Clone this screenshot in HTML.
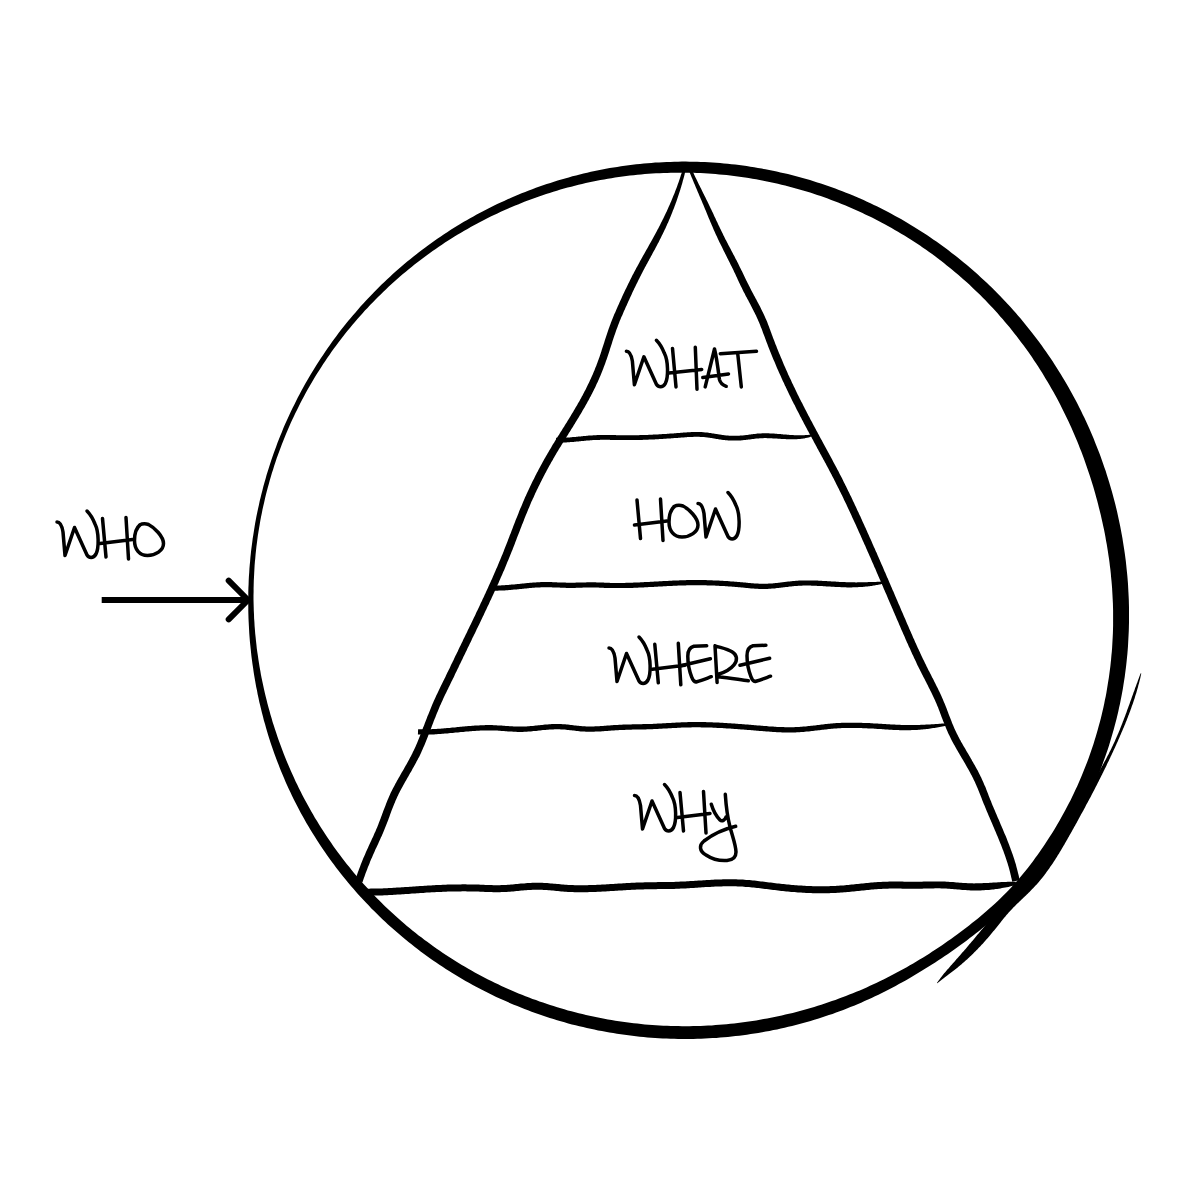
<!DOCTYPE html>
<html><head><meta charset="utf-8"><title>Who What How Where Why</title>
<style>html,body{margin:0;padding:0;background:#fff;width:1200px;height:1200px;overflow:hidden;font-family:"Liberation Sans",sans-serif}svg{display:block}</style>
</head><body>
<svg width="1200" height="1200" viewBox="0 0 1200 1200">
<path d="M248.2,599.5 L248.3,595.7 L248.3,591.9 L248.4,588.0 L248.6,584.2 L248.7,580.4 L248.9,576.6 L249.2,572.8 L249.4,569.0 L249.7,565.2 L250.1,561.4 L250.4,557.6 L250.8,553.8 L251.2,550.0 L251.7,546.2 L252.2,542.4 L252.7,538.6 L253.3,534.9 L253.9,531.1 L254.5,527.3 L255.1,523.6 L255.8,519.8 L256.5,516.1 L257.3,512.3 L258.1,508.6 L258.9,504.9 L259.7,501.1 L260.6,497.4 L261.5,493.7 L262.5,490.0 L263.4,486.3 L264.4,482.7 L265.5,479.0 L266.5,475.3 L267.6,471.7 L268.8,468.0 L269.9,464.4 L271.1,460.8 L272.3,457.2 L273.6,453.5 L274.9,450.0 L276.2,446.4 L277.5,442.8 L278.9,439.2 L280.3,435.7 L281.8,432.2 L283.2,428.6 L284.7,425.1 L286.3,421.6 L287.8,418.2 L289.4,414.7 L291.0,411.2 L292.7,407.8 L294.4,404.4 L296.1,401.0 L297.8,397.6 L299.6,394.2 L301.4,390.8 L303.2,387.5 L305.1,384.1 L307.0,380.8 L308.9,377.5 L310.8,374.2 L312.8,370.9 L314.8,367.7 L316.8,364.5 L318.9,361.2 L321.0,358.0 L323.1,354.9 L325.2,351.7 L327.4,348.6 L329.6,345.4 L331.8,342.3 L334.0,339.2 L336.3,336.2 L338.6,333.1 L340.9,330.1 L343.3,327.1 L345.7,324.1 L348.1,321.1 L350.5,318.2 L353.0,315.3 L355.5,312.4 L358.0,309.5 L360.5,306.6 L363.1,303.8 L365.6,301.0 L368.2,298.2 L370.9,295.4 L373.5,292.7 L376.2,290.0 L378.9,287.3 L381.6,284.6 L384.4,281.9 L387.2,279.3 L390.0,276.7 L392.8,274.1 L395.6,271.6 L398.5,269.1 L401.4,266.6 L404.3,264.1 L407.2,261.6 L410.2,259.2 L413.2,256.8 L416.1,254.4 L419.2,252.1 L422.2,249.8 L425.3,247.5 L428.3,245.2 L431.4,243.0 L434.5,240.7 L437.7,238.6 L440.8,236.4 L444.0,234.3 L447.2,232.2 L450.4,230.1 L453.6,228.1 L456.9,226.0 L460.2,224.0 L463.4,222.1 L466.7,220.2 L470.1,218.3 L473.4,216.4 L476.7,214.5 L480.1,212.7 L483.5,210.9 L486.9,209.2 L490.3,207.5 L493.7,205.8 L497.2,204.1 L500.6,202.5 L504.1,200.9 L507.6,199.3 L511.1,197.8 L514.6,196.2 L518.1,194.8 L521.6,193.3 L525.2,191.9 L528.8,190.5 L532.3,189.2 L535.9,187.8 L539.5,186.5 L543.1,185.3 L546.7,184.0 L550.4,182.9 L554.0,181.7 L557.7,180.6 L561.3,179.5 L565.0,178.4 L568.7,177.4 L572.4,176.3 L576.1,175.4 L579.8,174.4 L583.5,173.5 L587.2,172.7 L590.9,171.8 L594.7,171.0 L598.4,170.2 L602.2,169.5 L605.9,168.8 L609.7,168.1 L613.5,167.5 L617.2,166.9 L621.0,166.3 L624.8,165.7 L628.6,165.2 L632.4,164.8 L636.2,164.3 L640.0,163.9 L643.8,163.5 L647.6,163.2 L651.4,162.9 L655.2,162.6 L659.0,162.4 L662.8,162.2 L666.6,162.0 L670.5,161.9 L674.3,161.7 L678.1,161.7 L681.9,161.6 L685.8,161.6 L689.6,161.7 L693.4,161.7 L697.2,161.8 L701.0,161.9 L704.8,162.1 L708.7,162.3 L712.5,162.5 L716.3,162.8 L720.1,163.1 L723.9,163.4 L727.7,163.8 L731.5,164.2 L735.3,164.6 L739.1,165.1 L742.9,165.6 L746.7,166.1 L750.4,166.7 L754.2,167.3 L758.0,167.9 L761.7,168.6 L765.5,169.2 L769.2,170.0 L773.0,170.7 L776.7,171.5 L780.4,172.4 L784.2,173.2 L787.9,174.1 L791.6,175.0 L795.3,176.0 L799.0,177.0 L802.6,178.0 L806.3,179.0 L810.0,180.1 L813.6,181.2 L817.3,182.4 L820.9,183.6 L824.5,184.8 L828.1,186.0 L831.7,187.3 L835.3,188.6 L838.9,189.9 L842.4,191.3 L846.0,192.7 L849.5,194.1 L853.1,195.6 L856.6,197.1 L860.1,198.6 L863.6,200.1 L867.0,201.7 L870.5,203.3 L873.9,205.0 L877.4,206.6 L880.8,208.3 L884.2,210.0 L887.6,211.8 L890.9,213.6 L894.3,215.4 L897.6,217.2 L901.0,219.1 L904.3,221.0 L907.6,223.0 L910.8,224.9 L914.1,226.9 L917.3,228.9 L920.5,230.9 L923.7,233.0 L926.9,235.1 L930.1,237.2 L933.2,239.4 L936.4,241.6 L939.5,243.8 L942.6,246.0 L945.7,248.3 L948.7,250.5 L951.7,252.9 L954.8,255.2 L957.7,257.6 L960.7,259.9 L963.7,262.4 L966.6,264.8 L969.5,267.3 L972.4,269.7 L975.3,272.3 L978.1,274.8 L980.9,277.4 L983.7,279.9 L986.5,282.6 L989.3,285.2 L992.0,287.8 L994.7,290.5 L997.4,293.2 L1000.1,296.0 L1002.7,298.7 L1005.3,301.5 L1007.9,304.3 L1010.5,307.1 L1013.1,309.9 L1015.6,312.8 L1018.1,315.7 L1020.6,318.6 L1023.0,321.5 L1025.4,324.4 L1027.8,327.4 L1030.2,330.4 L1032.6,333.4 L1034.9,336.4 L1037.2,339.5 L1039.5,342.5 L1041.7,345.6 L1043.9,348.7 L1046.1,351.8 L1048.3,355.0 L1050.4,358.1 L1052.6,361.3 L1054.6,364.5 L1056.7,367.7 L1058.7,370.9 L1060.8,374.2 L1062.7,377.4 L1064.7,380.7 L1066.6,384.0 L1068.5,387.3 L1070.4,390.7 L1072.2,394.0 L1074.1,397.4 L1075.9,400.7 L1077.6,404.1 L1079.3,407.5 L1081.1,410.9 L1082.7,414.4 L1084.4,417.8 L1086.0,421.3 L1087.6,424.8 L1089.2,428.3 L1090.7,431.8 L1092.2,435.3 L1093.7,438.8 L1095.1,442.4 L1096.5,445.9 L1097.9,449.5 L1099.3,453.1 L1100.6,456.6 L1101.9,460.2 L1103.2,463.9 L1104.4,467.5 L1105.7,471.1 L1106.8,474.8 L1108.0,478.4 L1109.1,482.1 L1110.2,485.8 L1111.3,489.4 L1112.3,493.1 L1113.3,496.8 L1114.3,500.6 L1115.3,504.3 L1116.2,508.0 L1117.1,511.8 L1117.9,515.5 L1118.7,519.3 L1119.5,523.0 L1120.3,526.8 L1121.0,530.6 L1121.7,534.3 L1122.4,538.1 L1123.0,541.9 L1123.6,545.7 L1124.2,549.5 L1124.8,553.4 L1125.3,557.2 L1125.8,561.0 L1126.2,564.8 L1126.6,568.7 L1127.0,572.5 L1127.4,576.4 L1127.7,580.2 L1128.0,584.1 L1128.2,587.9 L1128.4,591.8 L1128.6,595.6 L1128.8,599.5 L1128.9,603.4 L1129.0,607.2 L1129.0,611.1 L1129.0,615.0 L1129.0,618.9 L1129.0,622.7 L1128.9,626.6 L1128.8,630.5 L1128.6,634.4 L1128.4,638.2 L1128.2,642.1 L1128.0,646.0 L1127.7,649.9 L1127.4,653.7 L1127.0,657.6 L1126.6,661.5 L1126.2,665.3 L1125.7,669.2 L1125.2,673.0 L1124.7,676.9 L1124.1,680.7 L1123.5,684.6 L1122.9,688.4 L1122.2,692.3 L1121.5,696.1 L1120.7,699.9 L1120.0,703.7 L1119.1,707.6 L1118.3,711.4 L1117.4,715.2 L1116.5,719.0 L1115.5,722.7 L1114.5,726.5 L1113.5,730.3 L1112.4,734.0 L1111.3,737.8 L1110.2,741.5 L1109.1,745.3 L1107.9,749.0 L1106.6,752.7 L1105.3,756.4 L1104.0,760.1 L1102.7,763.7 L1101.3,767.4 L1099.9,771.0 L1098.4,774.7 L1096.9,778.3 L1095.4,781.9 L1093.9,785.5 L1092.3,789.1 L1090.6,792.6 L1089.0,796.2 L1087.2,799.7 L1085.5,803.2 L1083.7,806.7 L1081.9,810.1 L1080.0,813.6 L1078.1,817.0 L1076.2,820.4 L1074.3,823.8 L1072.3,827.2 L1070.2,830.5 L1068.1,833.8 L1066.0,837.1 L1063.9,840.4 L1061.7,843.6 L1059.5,846.9 L1057.2,850.1 L1054.9,853.2 L1052.6,856.4 L1050.2,859.5 L1047.8,862.6 L1045.4,865.6 L1042.9,868.7 L1040.4,871.7 L1037.9,874.6 L1035.4,877.6 L1032.8,880.5 L1030.2,883.4 L1027.5,886.3 L1024.9,889.1 L1022.2,891.9 L1019.4,894.7 L1016.7,897.5 L1013.9,900.2 L1011.1,902.9 L1008.3,905.6 L1005.5,908.3 L1002.6,910.9 L999.7,913.5 L996.8,916.1 L993.9,918.6 L991.0,921.1 L988.0,923.6 L985.0,926.1 L982.0,928.5 L979.0,930.9 L976.0,933.3 L972.9,935.7 L969.8,938.1 L966.8,940.4 L963.7,942.7 L960.5,945.0 L957.4,947.2 L954.3,949.5 L951.1,951.7 L948.0,953.9 L944.8,956.0 L941.6,958.2 L938.4,960.3 L935.2,962.4 L931.9,964.5 L928.7,966.6 L925.4,968.6 L922.2,970.6 L918.9,972.6 L915.6,974.6 L912.3,976.5 L909.0,978.5 L905.6,980.4 L902.3,982.3 L898.9,984.1 L895.6,985.9 L892.2,987.7 L888.8,989.5 L885.4,991.3 L881.9,993.0 L878.5,994.7 L875.0,996.3 L871.6,998.0 L868.1,999.6 L864.6,1001.1 L861.1,1002.7 L857.5,1004.2 L854.0,1005.7 L850.4,1007.1 L846.9,1008.5 L843.3,1009.9 L839.7,1011.3 L836.1,1012.6 L832.5,1013.9 L828.9,1015.1 L825.2,1016.3 L821.6,1017.5 L817.9,1018.7 L814.3,1019.8 L810.6,1020.9 L806.9,1022.0 L803.2,1023.0 L799.5,1024.0 L795.8,1025.0 L792.1,1025.9 L788.3,1026.8 L784.6,1027.7 L780.9,1028.6 L777.1,1029.4 L773.4,1030.1 L769.6,1030.9 L765.8,1031.6 L762.1,1032.3 L758.3,1032.9 L754.5,1033.5 L750.7,1034.1 L746.9,1034.7 L743.1,1035.2 L739.3,1035.7 L735.5,1036.1 L731.7,1036.5 L727.9,1036.9 L724.0,1037.3 L720.2,1037.6 L716.4,1037.9 L712.6,1038.1 L708.7,1038.3 L704.9,1038.5 L701.1,1038.7 L697.3,1038.8 L693.4,1038.9 L689.6,1038.9 L685.8,1039.0 L681.9,1038.9 L678.1,1038.9 L674.2,1038.8 L670.4,1038.7 L666.6,1038.6 L662.7,1038.4 L658.9,1038.2 L655.1,1037.9 L651.3,1037.7 L647.4,1037.4 L643.6,1037.0 L639.8,1036.7 L636.0,1036.2 L632.2,1035.8 L628.4,1035.3 L624.6,1034.8 L620.8,1034.3 L617.0,1033.7 L613.2,1033.1 L609.4,1032.5 L605.6,1031.8 L601.9,1031.1 L598.1,1030.4 L594.3,1029.6 L590.6,1028.8 L586.8,1028.0 L583.1,1027.1 L579.4,1026.2 L575.6,1025.3 L571.9,1024.4 L568.2,1023.4 L564.5,1022.3 L560.8,1021.3 L557.1,1020.2 L553.5,1019.1 L549.8,1017.9 L546.1,1016.7 L542.5,1015.5 L538.9,1014.3 L535.2,1013.0 L531.6,1011.7 L528.0,1010.3 L524.5,1009.0 L520.9,1007.6 L517.3,1006.1 L513.8,1004.7 L510.2,1003.2 L506.7,1001.6 L503.2,1000.1 L499.7,998.5 L496.2,996.9 L492.8,995.2 L489.3,993.5 L485.9,991.8 L482.4,990.1 L479.0,988.3 L475.6,986.5 L472.3,984.7 L468.9,982.8 L465.5,980.9 L462.2,979.0 L458.9,977.0 L455.6,975.0 L452.3,973.0 L449.1,971.0 L445.8,968.9 L442.6,966.8 L439.4,964.7 L436.2,962.6 L433.1,960.4 L429.9,958.2 L426.8,955.9 L423.7,953.7 L420.6,951.4 L417.5,949.1 L414.5,946.7 L411.5,944.3 L408.5,941.9 L405.5,939.5 L402.5,937.1 L399.6,934.6 L396.7,932.1 L393.8,929.5 L390.9,927.0 L388.0,924.4 L385.2,921.8 L382.4,919.2 L379.6,916.5 L376.9,913.8 L374.1,911.1 L371.4,908.4 L368.8,905.6 L366.1,902.8 L363.5,900.0 L360.9,897.2 L358.3,894.4 L355.7,891.5 L353.2,888.6 L350.7,885.7 L348.2,882.7 L345.8,879.8 L343.3,876.8 L340.9,873.8 L338.6,870.7 L336.2,867.7 L333.9,864.6 L331.6,861.5 L329.4,858.4 L327.1,855.3 L324.9,852.1 L322.8,849.0 L320.6,845.8 L318.5,842.6 L316.4,839.3 L314.4,836.1 L312.3,832.8 L310.3,829.5 L308.4,826.2 L306.4,822.9 L304.5,819.6 L302.7,816.2 L300.8,812.9 L299.0,809.5 L297.2,806.1 L295.5,802.7 L293.7,799.2 L292.0,795.8 L290.4,792.3 L288.8,788.9 L287.2,785.4 L285.6,781.9 L284.1,778.3 L282.6,774.8 L281.1,771.3 L279.7,767.7 L278.3,764.1 L276.9,760.6 L275.6,757.0 L274.3,753.4 L273.0,749.7 L271.7,746.1 L270.5,742.5 L269.3,738.8 L268.2,735.2 L267.1,731.5 L266.0,727.8 L265.0,724.1 L263.9,720.5 L263.0,716.8 L262.0,713.0 L261.1,709.3 L260.2,705.6 L259.3,701.9 L258.5,698.1 L257.7,694.4 L257.0,690.6 L256.2,686.9 L255.5,683.1 L254.9,679.4 L254.2,675.6 L253.6,671.8 L253.1,668.0 L252.5,664.2 L252.0,660.5 L251.5,656.7 L251.1,652.9 L250.7,649.1 L250.3,645.3 L249.9,641.5 L249.6,637.7 L249.3,633.8 L249.1,630.0 L248.9,626.2 L248.7,622.4 L248.5,618.6 L248.4,614.8 L248.3,611.0 L248.3,607.1 L248.2,603.3ZM253.6,603.3 L253.7,607.0 L253.8,610.8 L254.0,614.6 L254.1,618.3 L254.4,622.1 L254.6,625.9 L254.9,629.6 L255.2,633.4 L255.6,637.1 L256.0,640.9 L256.4,644.6 L256.8,648.4 L257.3,652.1 L257.9,655.8 L258.4,659.6 L259.0,663.3 L259.6,667.0 L260.3,670.7 L260.9,674.4 L261.6,678.1 L262.4,681.8 L263.2,685.5 L264.0,689.2 L264.8,692.8 L265.7,696.5 L266.6,700.1 L267.5,703.8 L268.5,707.4 L269.5,711.0 L270.5,714.7 L271.6,718.3 L272.6,721.9 L273.8,725.5 L274.9,729.0 L276.1,732.6 L277.3,736.2 L278.5,739.7 L279.8,743.3 L281.1,746.8 L282.4,750.3 L283.7,753.8 L285.1,757.3 L286.5,760.8 L288.0,764.3 L289.5,767.7 L291.0,771.2 L292.5,774.6 L294.1,778.0 L295.6,781.4 L297.3,784.8 L298.9,788.2 L300.6,791.5 L302.3,794.9 L304.0,798.2 L305.8,801.5 L307.6,804.8 L309.4,808.1 L311.3,811.4 L313.1,814.6 L315.0,817.9 L317.0,821.1 L318.9,824.3 L320.9,827.5 L322.9,830.6 L325.0,833.8 L327.1,836.9 L329.2,840.0 L331.3,843.1 L333.4,846.2 L335.6,849.2 L337.8,852.3 L340.1,855.3 L342.3,858.3 L344.6,861.3 L346.9,864.2 L349.3,867.1 L351.6,870.1 L354.0,873.0 L356.4,875.8 L358.9,878.7 L361.4,881.5 L363.8,884.3 L366.4,887.1 L368.9,889.8 L371.5,892.6 L374.1,895.3 L376.7,898.0 L379.3,900.6 L382.0,903.3 L384.7,905.9 L387.4,908.5 L390.1,911.0 L392.9,913.6 L395.6,916.1 L398.4,918.6 L401.2,921.1 L404.1,923.5 L406.9,925.9 L409.8,928.3 L412.7,930.7 L415.7,933.0 L418.6,935.4 L421.6,937.6 L424.6,939.9 L427.6,942.1 L430.6,944.3 L433.6,946.5 L436.7,948.7 L439.8,950.8 L442.9,952.9 L446.0,955.0 L449.1,957.0 L452.3,959.1 L455.4,961.0 L458.6,963.0 L461.8,964.9 L465.0,966.8 L468.3,968.7 L471.5,970.6 L474.8,972.4 L478.1,974.2 L481.4,975.9 L484.7,977.7 L488.0,979.4 L491.3,981.1 L494.7,982.7 L498.1,984.3 L501.4,985.9 L504.8,987.5 L508.2,989.0 L511.7,990.5 L515.1,992.0 L518.5,993.4 L522.0,994.8 L525.5,996.2 L529.0,997.5 L532.5,998.9 L536.0,1000.1 L539.5,1001.4 L543.0,1002.6 L546.5,1003.8 L550.1,1005.0 L553.6,1006.1 L557.2,1007.2 L560.8,1008.3 L564.3,1009.3 L567.9,1010.4 L571.5,1011.3 L575.1,1012.3 L578.8,1013.2 L582.4,1014.1 L586.0,1014.9 L589.6,1015.8 L593.3,1016.6 L596.9,1017.3 L600.6,1018.1 L604.3,1018.8 L607.9,1019.4 L611.6,1020.1 L615.3,1020.7 L619.0,1021.2 L622.6,1021.8 L626.3,1022.3 L630.0,1022.8 L633.7,1023.2 L637.4,1023.6 L641.1,1024.0 L644.8,1024.4 L648.5,1024.7 L652.3,1025.0 L656.0,1025.3 L659.7,1025.5 L663.4,1025.7 L667.1,1025.8 L670.9,1026.0 L674.6,1026.1 L678.3,1026.1 L682.0,1026.2 L685.8,1026.2 L689.5,1026.2 L693.2,1026.1 L696.9,1026.0 L700.6,1025.9 L704.4,1025.8 L708.1,1025.6 L711.8,1025.4 L715.5,1025.1 L719.2,1024.8 L722.9,1024.5 L726.6,1024.2 L730.3,1023.8 L734.1,1023.4 L737.8,1023.0 L741.4,1022.5 L745.1,1022.1 L748.8,1021.5 L752.5,1021.0 L756.2,1020.4 L759.9,1019.8 L763.5,1019.1 L767.2,1018.5 L770.8,1017.7 L774.5,1017.0 L778.1,1016.2 L781.8,1015.4 L785.4,1014.6 L789.0,1013.8 L792.7,1012.9 L796.3,1011.9 L799.9,1011.0 L803.5,1010.0 L807.1,1009.0 L810.6,1008.0 L814.2,1006.9 L817.8,1005.8 L821.3,1004.7 L824.9,1003.5 L828.4,1002.3 L831.9,1001.1 L835.4,999.9 L839.0,998.6 L842.4,997.3 L845.9,996.0 L849.4,994.6 L852.9,993.2 L856.3,991.8 L859.8,990.4 L863.2,988.9 L866.6,987.4 L870.0,985.8 L873.4,984.3 L876.8,982.7 L880.2,981.1 L883.5,979.4 L886.9,977.8 L890.2,976.1 L893.5,974.3 L896.8,972.6 L900.1,970.8 L903.4,969.0 L906.7,967.2 L909.9,965.3 L913.2,963.5 L916.4,961.5 L919.6,959.6 L922.8,957.7 L926.0,955.7 L929.2,953.7 L932.3,951.6 L935.5,949.6 L938.6,947.5 L941.7,945.4 L944.8,943.3 L947.9,941.1 L951.0,939.0 L954.0,936.8 L957.1,934.5 L960.1,932.3 L963.1,930.0 L966.1,927.7 L969.1,925.4 L972.0,923.1 L975.0,920.7 L977.9,918.4 L980.8,915.9 L983.7,913.5 L986.6,911.0 L989.4,908.5 L992.3,906.0 L995.1,903.5 L997.8,900.9 L1000.6,898.2 L1003.3,895.6 L1005.9,892.9 L1008.6,890.2 L1011.2,887.4 L1013.8,884.6 L1016.3,881.8 L1018.8,878.9 L1021.2,876.1 L1023.7,873.1 L1026.0,870.2 L1028.4,867.2 L1030.7,864.2 L1033.0,861.2 L1035.2,858.1 L1037.5,855.0 L1039.6,851.9 L1041.8,848.8 L1043.9,845.7 L1046.0,842.5 L1048.1,839.3 L1050.2,836.1 L1052.2,832.9 L1054.2,829.7 L1056.1,826.5 L1058.0,823.2 L1059.9,819.9 L1061.8,816.6 L1063.6,813.3 L1065.4,810.0 L1067.2,806.6 L1068.9,803.2 L1070.7,799.9 L1072.3,796.5 L1074.0,793.1 L1075.6,789.6 L1077.2,786.2 L1078.7,782.7 L1080.2,779.3 L1081.7,775.8 L1083.1,772.3 L1084.5,768.8 L1085.9,765.3 L1087.3,761.7 L1088.6,758.2 L1089.9,754.6 L1091.1,751.1 L1092.3,747.5 L1093.5,743.9 L1094.6,740.3 L1095.7,736.7 L1096.8,733.1 L1097.8,729.4 L1098.8,725.8 L1099.8,722.2 L1100.8,718.5 L1101.7,714.8 L1102.5,711.2 L1103.4,707.5 L1104.2,703.8 L1104.9,700.1 L1105.7,696.4 L1106.4,692.7 L1107.0,689.0 L1107.6,685.3 L1108.2,681.6 L1108.8,677.9 L1109.3,674.2 L1109.8,670.5 L1110.3,666.7 L1110.7,663.0 L1111.1,659.3 L1111.4,655.5 L1111.8,651.8 L1112.1,648.1 L1112.3,644.3 L1112.5,640.6 L1112.7,636.9 L1112.9,633.1 L1113.0,629.4 L1113.1,625.6 L1113.1,621.9 L1113.1,618.2 L1113.1,614.4 L1113.1,610.7 L1113.0,607.0 L1112.9,603.2 L1112.7,599.5 L1112.5,595.8 L1112.3,592.1 L1112.1,588.3 L1111.8,584.6 L1111.5,580.9 L1111.1,577.2 L1110.8,573.5 L1110.4,569.8 L1109.9,566.1 L1109.5,562.4 L1109.0,558.7 L1108.4,555.1 L1107.9,551.4 L1107.3,547.7 L1106.7,544.1 L1106.0,540.4 L1105.4,536.8 L1104.7,533.1 L1104.0,529.5 L1103.2,525.9 L1102.4,522.3 L1101.6,518.7 L1100.8,515.1 L1099.9,511.5 L1099.0,507.9 L1098.1,504.3 L1097.2,500.7 L1096.2,497.2 L1095.2,493.6 L1094.2,490.1 L1093.2,486.5 L1092.1,483.0 L1091.0,479.5 L1089.9,475.9 L1088.7,472.4 L1087.5,468.9 L1086.3,465.5 L1085.1,462.0 L1083.9,458.5 L1082.6,455.1 L1081.3,451.6 L1079.9,448.2 L1078.6,444.8 L1077.2,441.3 L1075.8,437.9 L1074.3,434.6 L1072.9,431.2 L1071.4,427.8 L1069.9,424.5 L1068.3,421.1 L1066.7,417.8 L1065.1,414.5 L1063.5,411.2 L1061.9,407.9 L1060.2,404.6 L1058.5,401.3 L1056.8,398.1 L1055.0,394.8 L1053.2,391.6 L1051.4,388.4 L1049.6,385.2 L1047.7,382.0 L1045.8,378.9 L1043.9,375.7 L1042.0,372.6 L1040.0,369.5 L1038.0,366.3 L1036.0,363.3 L1033.9,360.2 L1031.9,357.1 L1029.8,354.1 L1027.7,351.1 L1025.5,348.1 L1023.3,345.1 L1021.1,342.2 L1018.9,339.2 L1016.7,336.3 L1014.4,333.4 L1012.1,330.5 L1009.8,327.6 L1007.4,324.8 L1005.0,321.9 L1002.6,319.1 L1000.2,316.4 L997.8,313.6 L995.3,310.8 L992.8,308.1 L990.3,305.4 L987.7,302.7 L985.2,300.1 L982.6,297.5 L980.0,294.8 L977.3,292.3 L974.6,289.7 L972.0,287.2 L969.3,284.6 L966.5,282.1 L963.8,279.7 L961.0,277.2 L958.2,274.8 L955.4,272.4 L952.5,270.0 L949.7,267.7 L946.8,265.4 L943.9,263.1 L941.0,260.8 L938.0,258.6 L935.1,256.3 L932.1,254.1 L929.1,252.0 L926.1,249.8 L923.0,247.7 L920.0,245.6 L916.9,243.6 L913.8,241.5 L910.7,239.5 L907.5,237.6 L904.4,235.6 L901.2,233.7 L898.0,231.8 L894.8,229.9 L891.6,228.1 L888.4,226.3 L885.2,224.5 L881.9,222.7 L878.6,221.0 L875.3,219.3 L872.0,217.6 L868.7,216.0 L865.3,214.4 L862.0,212.8 L858.6,211.2 L855.2,209.7 L851.8,208.2 L848.4,206.8 L845.0,205.3 L841.6,203.9 L838.1,202.5 L834.7,201.2 L831.2,199.9 L827.7,198.6 L824.2,197.3 L820.7,196.1 L817.2,194.9 L813.7,193.7 L810.1,192.6 L806.6,191.5 L803.0,190.4 L799.5,189.4 L795.9,188.4 L792.3,187.4 L788.7,186.5 L785.1,185.5 L781.5,184.7 L777.9,183.8 L774.3,183.0 L770.7,182.2 L767.0,181.4 L763.4,180.7 L759.7,180.0 L756.1,179.3 L752.4,178.7 L748.7,178.1 L745.1,177.5 L741.4,177.0 L737.7,176.5 L734.0,176.0 L730.3,175.5 L726.6,175.1 L722.9,174.8 L719.2,174.4 L715.5,174.1 L711.8,173.8 L708.1,173.5 L704.4,173.3 L700.6,173.1 L696.9,173.0 L693.2,172.8 L689.5,172.8 L685.8,172.7 L682.0,172.7 L678.3,172.7 L674.6,172.7 L670.8,172.8 L667.1,172.9 L663.4,173.0 L659.7,173.2 L656.0,173.3 L652.2,173.6 L648.5,173.8 L644.8,174.1 L641.1,174.4 L637.4,174.8 L633.7,175.2 L629.9,175.6 L626.2,176.1 L622.5,176.5 L618.8,177.1 L615.1,177.6 L611.5,178.2 L607.8,178.8 L604.1,179.4 L600.4,180.1 L596.8,180.8 L593.1,181.6 L589.4,182.3 L585.8,183.1 L582.1,184.0 L578.5,184.8 L574.9,185.7 L571.3,186.7 L567.6,187.6 L564.0,188.6 L560.4,189.6 L556.9,190.7 L553.3,191.8 L549.7,192.9 L546.1,194.0 L542.6,195.2 L539.0,196.4 L535.5,197.7 L532.0,199.0 L528.5,200.3 L525.0,201.6 L521.5,203.0 L518.0,204.4 L514.6,205.8 L511.1,207.2 L507.7,208.7 L504.2,210.2 L500.8,211.8 L497.4,213.4 L494.0,215.0 L490.7,216.6 L487.3,218.3 L484.0,220.0 L480.6,221.7 L477.3,223.5 L474.0,225.3 L470.7,227.1 L467.5,228.9 L464.2,230.8 L461.0,232.7 L457.8,234.6 L454.5,236.6 L451.4,238.6 L448.2,240.6 L445.0,242.6 L441.9,244.7 L438.8,246.8 L435.7,248.9 L432.6,251.1 L429.6,253.3 L426.5,255.5 L423.5,257.7 L420.5,260.0 L417.5,262.3 L414.5,264.6 L411.6,266.9 L408.7,269.3 L405.8,271.7 L402.9,274.1 L400.0,276.6 L397.2,279.0 L394.4,281.5 L391.6,284.1 L388.8,286.6 L386.1,289.2 L383.4,291.8 L380.7,294.4 L378.0,297.1 L375.3,299.7 L372.7,302.4 L370.1,305.1 L367.5,307.9 L364.9,310.6 L362.4,313.4 L359.9,316.2 L357.4,319.1 L354.9,321.9 L352.5,324.8 L350.1,327.7 L347.7,330.6 L345.3,333.5 L343.0,336.5 L340.7,339.5 L338.4,342.5 L336.2,345.5 L333.9,348.6 L331.7,351.6 L329.6,354.7 L327.4,357.8 L325.3,360.9 L323.2,364.1 L321.2,367.2 L319.1,370.4 L317.1,373.6 L315.1,376.8 L313.2,380.0 L311.3,383.3 L309.4,386.6 L307.5,389.8 L305.7,393.1 L303.9,396.5 L302.1,399.8 L300.4,403.1 L298.7,406.5 L297.0,409.9 L295.3,413.3 L293.7,416.7 L292.1,420.1 L290.5,423.5 L289.0,427.0 L287.5,430.5 L286.0,433.9 L284.6,437.4 L283.2,440.9 L281.8,444.4 L280.5,448.0 L279.2,451.5 L277.9,455.1 L276.6,458.6 L275.4,462.2 L274.2,465.8 L273.1,469.4 L271.9,473.0 L270.9,476.6 L269.8,480.2 L268.8,483.9 L267.8,487.5 L266.8,491.2 L265.9,494.8 L265.0,498.5 L264.2,502.2 L263.3,505.9 L262.5,509.5 L261.8,513.2 L261.0,516.9 L260.3,520.7 L259.7,524.4 L259.1,528.1 L258.5,531.8 L257.9,535.6 L257.4,539.3 L256.9,543.0 L256.4,546.8 L256.0,550.5 L255.6,554.3 L255.3,558.0 L254.9,561.8 L254.6,565.6 L254.4,569.3 L254.2,573.1 L254.0,576.9 L253.8,580.6 L253.7,584.4 L253.6,588.2 L253.6,592.0 L253.5,595.7 L253.5,599.5Z" fill="#000" fill-rule="evenodd"/>
<path d="M1140.7,673.3 L1140.2,674.5 L1139.8,675.6 L1139.3,676.8 L1138.9,678.0 L1138.5,679.1 L1138.0,680.3 L1137.6,681.5 L1137.2,682.7 L1136.7,683.8 L1136.3,685.0 L1135.9,686.2 L1135.4,687.3 L1135.0,688.5 L1134.6,689.7 L1134.2,690.9 L1133.7,692.1 L1133.3,693.2 L1132.9,694.4 L1132.5,695.6 L1132.0,696.8 L1131.6,698.0 L1131.2,699.2 L1130.8,700.3 L1130.3,701.5 L1129.9,702.7 L1129.5,703.9 L1129.1,705.1 L1128.6,706.3 L1128.2,707.5 L1127.8,708.6 L1127.3,709.8 L1126.9,711.0 L1126.5,712.2 L1126.0,713.4 L1125.6,714.6 L1125.2,715.7 L1124.7,716.9 L1124.3,718.1 L1123.8,719.3 L1123.4,720.5 L1122.9,721.6 L1122.5,722.8 L1122.0,724.0 L1121.5,725.2 L1121.1,726.3 L1120.6,727.5 L1120.1,728.7 L1119.7,729.9 L1119.2,731.0 L1118.7,732.2 L1118.2,733.4 L1117.7,734.5 L1117.2,735.7 L1116.7,736.8 L1116.2,738.0 L1115.7,739.1 L1115.2,740.3 L1114.7,741.4 L1114.2,742.6 L1113.6,743.7 L1113.1,744.8 L1112.6,746.0 L1112.0,747.1 L1111.5,748.2 L1110.9,749.4 L1110.4,750.5 L1109.8,751.6 L1109.2,752.7 L1108.7,753.9 L1108.1,755.0 L1107.5,756.1 L1106.9,757.2 L1106.4,758.3 L1105.8,759.4 L1105.2,760.5 L1104.6,761.6 L1104.0,762.7 L1103.4,763.8 L1102.8,764.9 L1102.2,766.0 L1101.6,767.1 L1101.0,768.2 L1100.3,769.3 L1099.7,770.4 L1099.1,771.4 L1098.5,772.5 L1097.8,773.6 L1097.2,774.7 L1096.6,775.8 L1095.9,776.8 L1095.3,777.9 L1094.7,779.0 L1094.0,780.1 L1093.4,781.1 L1092.7,782.2 L1092.1,783.3 L1091.4,784.3 L1090.8,785.4 L1090.1,786.5 L1089.4,787.5 L1088.8,788.6 L1088.1,789.6 L1087.4,790.7 L1086.8,791.8 L1086.1,792.8 L1085.4,793.9 L1084.8,794.9 L1084.1,796.0 L1083.4,797.1 L1082.8,798.1 L1082.1,799.2 L1081.4,800.2 L1080.7,801.3 L1080.0,802.3 L1079.4,803.4 L1078.7,804.5 L1078.0,805.5 L1077.3,806.6 L1076.6,807.6 L1076.0,808.7 L1075.3,809.7 L1074.6,810.8 L1073.9,811.8 L1073.2,812.9 L1072.5,813.9 L1071.9,815.0 L1071.2,816.1 L1070.5,817.1 L1069.8,818.2 L1069.1,819.2 L1068.4,820.3 L1067.8,821.4 L1067.1,822.4 L1066.4,823.5 L1065.7,824.5 L1065.0,825.6 L1064.3,826.7 L1063.7,827.7 L1063.0,828.8 L1062.3,829.9 L1061.6,830.9 L1061.0,832.0 L1060.3,833.1 L1059.6,834.1 L1058.9,835.2 L1058.3,836.3 L1057.6,837.3 L1056.9,838.4 L1056.2,839.5 L1055.6,840.5 L1054.9,841.6 L1054.2,842.7 L1053.5,843.7 L1052.9,844.8 L1052.2,845.8 L1051.5,846.9 L1050.8,847.9 L1050.2,849.0 L1049.5,850.0 L1048.8,851.1 L1048.1,852.1 L1047.4,853.1 L1046.7,854.2 L1046.0,855.2 L1045.4,856.2 L1044.7,857.3 L1044.0,858.3 L1043.2,859.3 L1042.5,860.3 L1041.8,861.3 L1041.1,862.3 L1040.4,863.3 L1039.7,864.3 L1038.9,865.3 L1038.2,866.3 L1037.5,867.3 L1036.7,868.2 L1036.0,869.2 L1035.2,870.2 L1034.5,871.1 L1033.7,872.1 L1033.0,873.0 L1032.2,873.9 L1031.4,874.9 L1030.6,875.8 L1029.8,876.7 L1029.0,877.6 L1028.2,878.5 L1027.4,879.4 L1026.6,880.3 L1025.8,881.2 L1024.9,882.1 L1024.1,883.0 L1023.2,883.8 L1022.4,884.7 L1021.5,885.6 L1020.6,886.5 L1019.7,887.3 L1018.9,888.2 L1018.0,889.1 L1017.1,890.0 L1016.2,890.8 L1015.3,891.7 L1014.4,892.6 L1013.4,893.5 L1012.5,894.4 L1011.6,895.2 L1010.7,896.1 L1009.8,897.0 L1008.9,897.9 L1008.0,898.8 L1007.1,899.7 L1006.2,900.7 L1005.3,901.6 L1004.4,902.5 L1003.5,903.5 L1002.6,904.4 L1001.7,905.4 L1000.9,906.4 L1000.0,907.3 L999.2,908.3 L998.3,909.3 L997.5,910.3 L996.7,911.2 L995.8,912.2 L995.0,913.2 L994.2,914.2 L993.4,915.2 L992.6,916.2 L991.8,917.2 L991.0,918.1 L990.2,919.1 L989.4,920.1 L988.7,921.1 L987.9,922.1 L987.1,923.0 L986.3,924.0 L985.5,925.0 L984.7,926.0 L984.0,926.9 L983.2,927.9 L982.4,928.9 L981.6,929.8 L980.8,930.8 L980.0,931.8 L979.2,932.7 L978.4,933.7 L977.6,934.6 L976.8,935.6 L976.0,936.5 L975.2,937.5 L974.4,938.5 L973.6,939.4 L972.8,940.4 L972.0,941.3 L971.2,942.3 L970.4,943.2 L969.6,944.1 L968.8,945.1 L968.0,946.0 L967.2,947.0 L966.4,947.9 L965.6,948.9 L964.8,949.8 L964.0,950.7 L963.1,951.7 L962.3,952.6 L961.5,953.5 L960.7,954.5 L959.9,955.4 L959.1,956.3 L958.3,957.3 L957.4,958.2 L956.6,959.1 L955.8,960.1 L955.0,961.0 L954.2,961.9 L953.4,962.8 L952.5,963.8 L951.7,964.7 L950.9,965.6 L950.1,966.5 L949.3,967.5 L948.5,968.4 L947.6,969.3 L946.8,970.3 L946.0,971.2 L945.2,972.2 L944.4,973.1 L943.6,974.1 L942.8,975.0 L942.1,976.0 L941.3,977.0 L940.5,978.0 L939.8,978.9 L939.1,979.9 L938.3,980.9 L937.6,981.9 L936.9,983.0 L937.3,983.3 L938.2,982.5 L939.2,981.7 L940.1,980.9 L941.1,980.2 L942.0,979.4 L943.0,978.7 L944.0,977.9 L944.9,977.2 L945.9,976.4 L946.9,975.7 L947.9,975.0 L948.8,974.2 L949.8,973.5 L950.8,972.7 L951.8,972.0 L952.8,971.2 L953.8,970.5 L954.8,969.7 L955.7,968.9 L956.7,968.2 L957.7,967.4 L958.7,966.6 L959.7,965.8 L960.6,965.0 L961.6,964.2 L962.5,963.3 L963.5,962.5 L964.4,961.7 L965.4,960.8 L966.3,960.0 L967.3,959.2 L968.2,958.3 L969.1,957.4 L970.0,956.6 L971.0,955.7 L971.9,954.8 L972.8,953.9 L973.7,953.0 L974.6,952.1 L975.5,951.2 L976.4,950.3 L977.3,949.4 L978.1,948.5 L979.0,947.6 L979.9,946.7 L980.8,945.7 L981.6,944.8 L982.5,943.9 L983.4,942.9 L984.2,942.0 L985.1,941.0 L985.9,940.1 L986.8,939.1 L987.6,938.2 L988.4,937.2 L989.3,936.2 L990.1,935.3 L990.9,934.3 L991.7,933.3 L992.5,932.3 L993.3,931.3 L994.1,930.4 L994.9,929.4 L995.7,928.4 L996.5,927.4 L997.3,926.4 L998.1,925.4 L998.9,924.4 L999.7,923.4 L1000.5,922.5 L1001.2,921.5 L1002.0,920.5 L1002.8,919.6 L1003.6,918.6 L1004.4,917.6 L1005.2,916.7 L1005.9,915.8 L1006.7,914.8 L1007.5,913.9 L1008.3,913.0 L1009.1,912.1 L1010.0,911.2 L1010.8,910.3 L1011.6,909.4 L1012.5,908.5 L1013.3,907.6 L1014.2,906.7 L1015.0,905.9 L1015.9,905.0 L1016.8,904.1 L1017.7,903.3 L1018.6,902.4 L1019.5,901.5 L1020.4,900.7 L1021.3,899.8 L1022.2,898.9 L1023.1,898.1 L1024.0,897.2 L1025.0,896.3 L1025.9,895.4 L1026.8,894.6 L1027.7,893.7 L1028.6,892.8 L1029.5,891.9 L1030.4,891.0 L1031.3,890.0 L1032.2,889.1 L1033.1,888.2 L1034.0,887.2 L1034.9,886.3 L1035.8,885.3 L1036.7,884.4 L1037.5,883.4 L1038.4,882.4 L1039.2,881.4 L1040.0,880.5 L1040.8,879.5 L1041.7,878.5 L1042.5,877.5 L1043.3,876.4 L1044.1,875.4 L1044.8,874.4 L1045.6,873.4 L1046.4,872.3 L1047.1,871.3 L1047.9,870.3 L1048.6,869.2 L1049.4,868.2 L1050.1,867.1 L1050.8,866.1 L1051.6,865.0 L1052.3,863.9 L1053.0,862.9 L1053.7,861.8 L1054.4,860.7 L1055.1,859.7 L1055.8,858.6 L1056.5,857.5 L1057.1,856.4 L1057.8,855.3 L1058.5,854.2 L1059.2,853.2 L1059.8,852.1 L1060.5,851.0 L1061.1,849.9 L1061.8,848.8 L1062.4,847.7 L1063.1,846.6 L1063.7,845.5 L1064.4,844.4 L1065.0,843.3 L1065.6,842.2 L1066.3,841.1 L1066.9,840.0 L1067.5,838.9 L1068.1,837.8 L1068.8,836.7 L1069.4,835.6 L1070.0,834.5 L1070.6,833.4 L1071.3,832.3 L1071.9,831.2 L1072.5,830.1 L1073.1,829.0 L1073.7,827.9 L1074.3,826.8 L1075.0,825.7 L1075.6,824.6 L1076.2,823.5 L1076.8,822.4 L1077.4,821.3 L1078.0,820.2 L1078.6,819.0 L1079.2,817.9 L1079.8,816.8 L1080.4,815.7 L1081.0,814.6 L1081.6,813.5 L1082.2,812.4 L1082.9,811.3 L1083.5,810.2 L1084.1,809.1 L1084.7,808.0 L1085.2,806.9 L1085.8,805.8 L1086.4,804.6 L1087.0,803.5 L1087.6,802.4 L1088.2,801.3 L1088.8,800.2 L1089.4,799.1 L1090.0,798.0 L1090.6,796.9 L1091.2,795.7 L1091.8,794.6 L1092.3,793.5 L1092.9,792.4 L1093.5,791.3 L1094.1,790.2 L1094.7,789.0 L1095.2,787.9 L1095.8,786.8 L1096.4,785.7 L1097.0,784.6 L1097.5,783.4 L1098.1,782.3 L1098.7,781.2 L1099.2,780.1 L1099.8,779.0 L1100.4,777.8 L1100.9,776.7 L1101.5,775.6 L1102.1,774.5 L1102.6,773.3 L1103.2,772.2 L1103.7,771.1 L1104.3,769.9 L1104.8,768.8 L1105.4,767.7 L1106.0,766.5 L1106.5,765.4 L1107.0,764.3 L1107.6,763.1 L1108.1,762.0 L1108.7,760.9 L1109.2,759.7 L1109.8,758.6 L1110.3,757.5 L1110.8,756.3 L1111.4,755.2 L1111.9,754.0 L1112.4,752.9 L1113.0,751.7 L1113.5,750.6 L1114.0,749.5 L1114.6,748.3 L1115.1,747.2 L1115.6,746.0 L1116.1,744.9 L1116.6,743.7 L1117.2,742.5 L1117.7,741.4 L1118.2,740.2 L1118.7,739.1 L1119.2,737.9 L1119.7,736.8 L1120.2,735.6 L1120.7,734.4 L1121.2,733.3 L1121.7,732.1 L1122.2,730.9 L1122.7,729.8 L1123.2,728.6 L1123.7,727.4 L1124.2,726.2 L1124.7,725.1 L1125.2,723.9 L1125.6,722.7 L1126.1,721.5 L1126.6,720.4 L1127.0,719.2 L1127.5,718.0 L1128.0,716.8 L1128.4,715.6 L1128.9,714.4 L1129.3,713.3 L1129.8,712.1 L1130.2,710.9 L1130.6,709.7 L1131.1,708.5 L1131.5,707.3 L1131.9,706.1 L1132.3,704.9 L1132.8,703.7 L1133.2,702.5 L1133.6,701.3 L1134.0,700.1 L1134.4,698.9 L1134.8,697.7 L1135.1,696.5 L1135.5,695.3 L1135.9,694.1 L1136.3,692.9 L1136.6,691.7 L1137.0,690.5 L1137.3,689.3 L1137.7,688.1 L1138.0,686.9 L1138.3,685.6 L1138.6,684.4 L1139.0,683.2 L1139.3,682.0 L1139.6,680.8 L1139.9,679.6 L1140.2,678.4 L1140.5,677.1 L1140.7,675.9 L1141.0,674.7 L1141.3,673.5Z" fill="#000"/>
<path d="M683.2,167.7 L682.8,169.2 L682.3,170.7 L681.9,172.2 L681.4,173.7 L680.9,175.1 L680.5,176.6 L680.0,178.1 L679.5,179.6 L679.0,181.1 L678.5,182.5 L677.9,184.0 L677.4,185.5 L676.9,186.9 L676.3,188.4 L675.8,189.8 L675.2,191.3 L674.7,192.7 L674.1,194.2 L673.5,195.6 L672.9,197.1 L672.3,198.5 L671.7,200.0 L671.1,201.4 L670.5,202.8 L669.9,204.3 L669.2,205.7 L668.6,207.1 L668.0,208.5 L667.3,210.0 L666.7,211.4 L666.0,212.8 L665.3,214.2 L664.7,215.6 L664.0,217.0 L663.3,218.4 L662.6,219.8 L661.9,221.2 L661.2,222.6 L660.5,224.0 L659.8,225.4 L659.1,226.8 L658.4,228.2 L657.6,229.5 L656.9,230.9 L656.2,232.3 L655.4,233.7 L654.7,235.0 L653.9,236.4 L653.2,237.8 L652.4,239.2 L651.7,240.5 L650.9,241.9 L650.1,243.3 L649.4,244.6 L648.6,246.0 L647.8,247.4 L647.1,248.7 L646.3,250.1 L645.5,251.5 L644.8,252.8 L644.0,254.2 L643.2,255.6 L642.4,257.0 L641.7,258.3 L640.9,259.7 L640.1,261.1 L639.4,262.5 L638.6,263.9 L637.9,265.3 L637.1,266.7 L636.3,268.0 L635.6,269.4 L634.8,270.9 L634.1,272.3 L633.4,273.7 L632.6,275.1 L631.9,276.5 L631.2,277.9 L630.5,279.3 L629.8,280.8 L629.1,282.2 L628.4,283.6 L627.7,285.0 L627.0,286.5 L626.3,287.9 L625.6,289.3 L624.9,290.8 L624.2,292.2 L623.6,293.6 L622.9,295.1 L622.2,296.5 L621.6,297.9 L620.9,299.4 L620.3,300.8 L619.6,302.3 L619.0,303.7 L618.3,305.2 L617.7,306.6 L617.1,308.0 L616.4,309.5 L615.8,310.9 L615.2,312.4 L614.5,313.8 L613.9,315.3 L613.3,316.8 L612.7,318.2 L612.1,319.7 L611.5,321.2 L610.9,322.7 L610.4,324.2 L609.8,325.7 L609.3,327.2 L608.7,328.7 L608.2,330.2 L607.7,331.7 L607.2,333.2 L606.7,334.7 L606.2,336.2 L605.7,337.7 L605.2,339.2 L604.7,340.7 L604.3,342.3 L603.8,343.8 L603.3,345.3 L602.8,346.8 L602.3,348.3 L601.8,349.7 L601.4,351.2 L600.9,352.7 L600.4,354.2 L599.9,355.7 L599.4,357.2 L598.9,358.6 L598.4,360.1 L597.8,361.5 L597.3,363.0 L596.7,364.4 L596.2,365.9 L595.6,367.3 L595.0,368.8 L594.5,370.2 L593.9,371.6 L593.3,373.1 L592.7,374.5 L592.0,375.9 L591.4,377.3 L590.8,378.7 L590.1,380.1 L589.5,381.5 L588.8,382.9 L588.1,384.3 L587.4,385.7 L586.8,387.1 L586.1,388.5 L585.4,389.9 L584.6,391.3 L583.9,392.7 L583.2,394.0 L582.5,395.4 L581.7,396.8 L581.0,398.2 L580.2,399.5 L579.5,400.9 L578.7,402.2 L577.9,403.6 L577.2,404.9 L576.4,406.3 L575.6,407.6 L574.8,409.0 L574.0,410.3 L573.2,411.7 L572.4,413.0 L571.6,414.3 L570.8,415.7 L570.0,417.0 L569.1,418.4 L568.3,419.7 L567.5,421.0 L566.7,422.4 L565.8,423.7 L565.0,425.0 L564.2,426.4 L563.3,427.7 L562.5,429.0 L561.7,430.4 L560.8,431.7 L560.0,433.0 L559.2,434.4 L558.3,435.7 L557.5,437.1 L556.7,438.4 L555.8,439.7 L555.0,441.1 L554.2,442.4 L553.3,443.8 L552.5,445.1 L551.7,446.5 L550.9,447.9 L550.1,449.2 L549.3,450.6 L548.5,452.0 L547.7,453.3 L546.9,454.7 L546.1,456.1 L545.3,457.5 L544.5,458.8 L543.7,460.2 L543.0,461.6 L542.2,463.0 L541.4,464.4 L540.7,465.8 L539.9,467.2 L539.2,468.6 L538.4,470.0 L537.7,471.4 L536.9,472.8 L536.2,474.2 L535.5,475.6 L534.8,477.0 L534.1,478.5 L533.3,479.9 L532.6,481.3 L531.9,482.7 L531.2,484.2 L530.6,485.6 L529.9,487.0 L529.2,488.5 L528.5,489.9 L527.9,491.3 L527.2,492.8 L526.5,494.2 L525.9,495.7 L525.2,497.1 L524.6,498.6 L524.0,500.0 L523.3,501.5 L522.7,503.0 L522.1,504.4 L521.5,505.9 L520.8,507.4 L520.2,508.8 L519.6,510.3 L519.0,511.8 L518.5,513.2 L517.9,514.7 L517.3,516.2 L516.7,517.7 L516.1,519.1 L515.5,520.6 L515.0,522.1 L514.4,523.6 L513.8,525.0 L513.2,526.5 L512.7,528.0 L512.1,529.5 L511.5,530.9 L511.0,532.4 L510.4,533.9 L509.8,535.3 L509.3,536.8 L508.7,538.3 L508.1,539.8 L507.6,541.2 L507.0,542.7 L506.4,544.2 L505.9,545.6 L505.3,547.1 L504.7,548.5 L504.1,550.0 L503.6,551.5 L503.0,552.9 L502.4,554.4 L501.8,555.8 L501.2,557.3 L500.6,558.7 L500.0,560.2 L499.4,561.6 L498.8,563.0 L498.2,564.5 L497.6,565.9 L497.0,567.4 L496.3,568.8 L495.7,570.3 L495.1,571.7 L494.5,573.1 L493.9,574.6 L493.2,576.0 L492.6,577.4 L492.0,578.9 L491.3,580.3 L490.7,581.7 L490.0,583.2 L489.4,584.6 L488.7,586.0 L488.1,587.4 L487.4,588.9 L486.8,590.3 L486.1,591.7 L485.5,593.2 L484.8,594.6 L484.2,596.0 L483.5,597.4 L482.8,598.8 L482.2,600.3 L481.5,601.7 L480.8,603.1 L480.2,604.5 L479.5,606.0 L478.8,607.4 L478.2,608.8 L477.5,610.2 L476.8,611.6 L476.1,613.1 L475.5,614.5 L474.8,615.9 L474.1,617.3 L473.4,618.7 L472.7,620.2 L472.1,621.6 L471.4,623.0 L470.7,624.4 L470.0,625.8 L469.3,627.2 L468.6,628.7 L467.9,630.1 L467.3,631.5 L466.6,632.9 L465.9,634.3 L465.2,635.8 L464.5,637.2 L463.8,638.6 L463.1,640.0 L462.5,641.4 L461.8,642.8 L461.1,644.3 L460.4,645.7 L459.7,647.1 L459.0,648.5 L458.3,649.9 L457.7,651.4 L457.0,652.8 L456.3,654.2 L455.6,655.6 L454.9,657.0 L454.2,658.5 L453.6,659.9 L452.9,661.3 L452.2,662.7 L451.5,664.1 L450.8,665.5 L450.2,667.0 L449.5,668.4 L448.8,669.8 L448.1,671.2 L447.4,672.6 L446.7,674.0 L446.0,675.5 L445.4,676.9 L444.7,678.3 L444.0,679.7 L443.3,681.1 L442.6,682.5 L441.9,683.9 L441.2,685.3 L440.5,686.8 L439.8,688.2 L439.2,689.6 L438.5,691.0 L437.8,692.5 L437.1,693.9 L436.4,695.3 L435.8,696.8 L435.1,698.2 L434.4,699.7 L433.8,701.1 L433.2,702.6 L432.5,704.1 L431.9,705.5 L431.3,707.0 L430.7,708.5 L430.1,709.9 L429.5,711.4 L428.9,712.9 L428.3,714.4 L427.7,715.8 L427.1,717.3 L426.6,718.8 L426.0,720.3 L425.4,721.7 L424.8,723.2 L424.3,724.7 L423.7,726.2 L423.1,727.6 L422.6,729.1 L422.0,730.6 L421.4,732.1 L420.9,733.5 L420.3,735.0 L419.7,736.4 L419.1,737.9 L418.6,739.3 L418.0,740.8 L417.4,742.2 L416.8,743.7 L416.2,745.1 L415.6,746.5 L414.9,747.9 L414.3,749.3 L413.6,750.7 L412.9,752.1 L412.3,753.4 L411.6,754.8 L410.9,756.2 L410.1,757.6 L409.4,758.9 L408.7,760.3 L407.9,761.7 L407.2,763.0 L406.4,764.4 L405.6,765.8 L404.9,767.1 L404.1,768.5 L403.3,769.9 L402.5,771.2 L401.7,772.6 L400.9,774.0 L400.2,775.3 L399.4,776.7 L398.6,778.1 L397.8,779.5 L397.0,780.8 L396.3,782.2 L395.5,783.6 L394.8,785.0 L394.0,786.4 L393.3,787.8 L392.5,789.3 L391.8,790.7 L391.1,792.1 L390.4,793.6 L389.8,795.1 L389.1,796.5 L388.5,798.0 L387.8,799.5 L387.2,801.0 L386.6,802.4 L386.0,803.9 L385.5,805.4 L384.9,806.9 L384.3,808.4 L383.8,809.8 L383.2,811.3 L382.7,812.8 L382.1,814.3 L381.6,815.8 L381.0,817.2 L380.5,818.7 L379.9,820.2 L379.4,821.6 L378.8,823.1 L378.3,824.5 L377.7,826.0 L377.1,827.4 L376.5,828.8 L375.9,830.3 L375.3,831.7 L374.6,833.1 L374.0,834.5 L373.4,835.9 L372.7,837.4 L372.0,838.8 L371.4,840.2 L370.7,841.7 L370.1,843.1 L369.4,844.5 L368.7,846.0 L368.1,847.4 L367.4,848.9 L366.8,850.3 L366.1,851.8 L365.5,853.3 L364.9,854.7 L364.2,856.2 L363.6,857.6 L363.0,859.1 L362.4,860.6 L361.8,862.1 L361.2,863.5 L360.6,865.0 L360.1,866.5 L359.5,868.0 L358.9,869.5 L358.4,871.0 L357.8,872.4 L357.3,873.9 L356.8,875.4 L356.3,876.9 L355.7,878.4 L355.2,880.0 L362.5,882.3 L362.9,880.9 L363.4,879.4 L363.9,878.0 L364.5,876.5 L365.0,875.0 L365.5,873.6 L366.1,872.1 L366.6,870.7 L367.2,869.2 L367.7,867.8 L368.3,866.3 L368.9,864.9 L369.5,863.5 L370.0,862.0 L370.6,860.6 L371.2,859.1 L371.9,857.7 L372.5,856.3 L373.1,854.8 L373.7,853.4 L374.4,852.0 L375.0,850.6 L375.6,849.1 L376.3,847.7 L377.0,846.3 L377.6,844.9 L378.3,843.4 L378.9,842.0 L379.6,840.5 L380.3,839.1 L380.9,837.6 L381.6,836.2 L382.2,834.7 L382.9,833.3 L383.5,831.8 L384.1,830.3 L384.7,828.8 L385.3,827.3 L385.9,825.8 L386.5,824.3 L387.0,822.9 L387.6,821.4 L388.2,819.9 L388.7,818.4 L389.3,816.9 L389.8,815.4 L390.3,814.0 L390.9,812.5 L391.4,811.0 L392.0,809.6 L392.6,808.1 L393.1,806.7 L393.7,805.3 L394.3,803.8 L394.9,802.4 L395.4,801.0 L396.1,799.6 L396.7,798.2 L397.3,796.8 L398.0,795.4 L398.6,794.1 L399.3,792.7 L400.0,791.3 L400.7,790.0 L401.5,788.6 L402.2,787.3 L402.9,785.9 L403.7,784.5 L404.4,783.2 L405.2,781.8 L406.0,780.5 L406.8,779.1 L407.5,777.7 L408.3,776.4 L409.1,775.0 L409.9,773.6 L410.7,772.3 L411.5,770.9 L412.2,769.5 L413.0,768.1 L413.8,766.7 L414.6,765.3 L415.3,763.9 L416.1,762.5 L416.8,761.1 L417.6,759.7 L418.3,758.3 L419.1,756.9 L419.8,755.4 L420.5,754.0 L421.2,752.5 L421.8,751.0 L422.5,749.6 L423.1,748.1 L423.8,746.6 L424.4,745.2 L425.0,743.7 L425.6,742.2 L426.2,740.7 L426.8,739.2 L427.4,737.7 L428.0,736.3 L428.5,734.8 L429.1,733.3 L429.7,731.8 L430.2,730.4 L430.8,728.9 L431.4,727.4 L431.9,726.0 L432.5,724.5 L433.1,723.0 L433.6,721.6 L434.2,720.1 L434.8,718.6 L435.4,717.2 L435.9,715.7 L436.5,714.3 L437.1,712.8 L437.7,711.4 L438.3,709.9 L438.9,708.5 L439.5,707.1 L440.1,705.6 L440.8,704.2 L441.4,702.8 L442.0,701.4 L442.7,700.0 L443.3,698.6 L444.0,697.1 L444.6,695.7 L445.3,694.3 L446.0,692.9 L446.7,691.5 L447.4,690.1 L448.1,688.7 L448.7,687.3 L449.4,685.9 L450.1,684.4 L450.8,683.0 L451.5,681.6 L452.2,680.2 L452.9,678.8 L453.6,677.4 L454.3,675.9 L454.9,674.5 L455.6,673.1 L456.3,671.7 L457.0,670.3 L457.7,668.8 L458.4,667.4 L459.0,666.0 L459.7,664.6 L460.4,663.2 L461.1,661.8 L461.8,660.3 L462.5,658.9 L463.1,657.5 L463.8,656.1 L464.5,654.7 L465.2,653.2 L465.9,651.8 L466.6,650.4 L467.2,649.0 L467.9,647.6 L468.6,646.2 L469.3,644.7 L470.0,643.3 L470.7,641.9 L471.4,640.5 L472.0,639.1 L472.7,637.6 L473.4,636.2 L474.1,634.8 L474.8,633.4 L475.5,632.0 L476.2,630.5 L476.8,629.1 L477.5,627.7 L478.2,626.3 L478.9,624.9 L479.6,623.4 L480.3,622.0 L481.0,620.6 L481.6,619.2 L482.3,617.8 L483.0,616.3 L483.7,614.9 L484.3,613.5 L485.0,612.1 L485.7,610.6 L486.4,609.2 L487.0,607.8 L487.7,606.3 L488.4,604.9 L489.1,603.5 L489.7,602.1 L490.4,600.6 L491.1,599.2 L491.7,597.8 L492.4,596.3 L493.0,594.9 L493.7,593.5 L494.4,592.0 L495.0,590.6 L495.7,589.2 L496.3,587.7 L497.0,586.3 L497.6,584.8 L498.3,583.4 L498.9,582.0 L499.5,580.5 L500.2,579.1 L500.8,577.6 L501.4,576.2 L502.1,574.7 L502.7,573.3 L503.3,571.8 L504.0,570.4 L504.6,568.9 L505.2,567.5 L505.8,566.0 L506.4,564.5 L507.0,563.1 L507.6,561.6 L508.2,560.2 L508.8,558.7 L509.4,557.2 L510.0,555.7 L510.6,554.3 L511.2,552.8 L511.8,551.3 L512.4,549.9 L512.9,548.4 L513.5,546.9 L514.1,545.4 L514.7,544.0 L515.2,542.5 L515.8,541.0 L516.4,539.5 L516.9,538.1 L517.5,536.6 L518.1,535.1 L518.6,533.7 L519.2,532.2 L519.8,530.7 L520.3,529.2 L520.9,527.8 L521.5,526.3 L522.0,524.8 L522.6,523.4 L523.2,521.9 L523.8,520.4 L524.3,519.0 L524.9,517.5 L525.5,516.1 L526.1,514.6 L526.7,513.2 L527.3,511.7 L527.9,510.3 L528.5,508.8 L529.1,507.4 L529.7,505.9 L530.3,504.5 L530.9,503.1 L531.5,501.6 L532.2,500.2 L532.8,498.8 L533.5,497.4 L534.1,495.9 L534.8,494.5 L535.4,493.1 L536.1,491.7 L536.7,490.3 L537.4,488.9 L538.1,487.5 L538.8,486.1 L539.5,484.7 L540.2,483.3 L540.8,481.9 L541.6,480.5 L542.3,479.1 L543.0,477.7 L543.7,476.3 L544.4,474.9 L545.1,473.5 L545.9,472.2 L546.6,470.8 L547.3,469.4 L548.1,468.0 L548.8,466.7 L549.6,465.3 L550.4,463.9 L551.1,462.6 L551.9,461.2 L552.7,459.9 L553.4,458.5 L554.2,457.2 L555.0,455.8 L555.8,454.5 L556.6,453.1 L557.4,451.8 L558.2,450.4 L559.0,449.1 L559.8,447.7 L560.7,446.4 L561.5,445.1 L562.3,443.7 L563.1,442.4 L563.9,441.1 L564.8,439.7 L565.6,438.4 L566.4,437.1 L567.3,435.7 L568.1,434.4 L568.9,433.1 L569.8,431.7 L570.6,430.4 L571.4,429.1 L572.3,427.7 L573.1,426.4 L573.9,425.0 L574.8,423.7 L575.6,422.3 L576.4,421.0 L577.3,419.6 L578.1,418.3 L578.9,416.9 L579.7,415.6 L580.5,414.2 L581.3,412.9 L582.1,411.5 L582.9,410.1 L583.7,408.7 L584.5,407.4 L585.3,406.0 L586.1,404.6 L586.9,403.2 L587.6,401.8 L588.4,400.4 L589.2,399.0 L589.9,397.6 L590.7,396.2 L591.4,394.8 L592.1,393.4 L592.8,391.9 L593.6,390.5 L594.3,389.1 L595.0,387.7 L595.7,386.2 L596.3,384.8 L597.0,383.3 L597.7,381.9 L598.3,380.4 L599.0,379.0 L599.6,377.5 L600.3,376.0 L600.9,374.6 L601.5,373.1 L602.1,371.6 L602.7,370.1 L603.3,368.6 L603.8,367.1 L604.4,365.6 L605.0,364.1 L605.5,362.6 L606.0,361.1 L606.6,359.6 L607.1,358.1 L607.6,356.6 L608.1,355.1 L608.6,353.6 L609.1,352.1 L609.6,350.6 L610.0,349.1 L610.5,347.6 L611.0,346.1 L611.5,344.6 L612.0,343.1 L612.4,341.6 L612.9,340.1 L613.4,338.6 L613.9,337.1 L614.4,335.6 L614.9,334.2 L615.4,332.7 L615.9,331.2 L616.4,329.8 L617.0,328.3 L617.5,326.9 L618.0,325.4 L618.6,324.0 L619.2,322.6 L619.7,321.1 L620.3,319.7 L620.9,318.3 L621.5,316.8 L622.2,315.4 L622.8,314.0 L623.4,312.6 L624.0,311.1 L624.7,309.7 L625.3,308.3 L625.9,306.8 L626.6,305.4 L627.2,304.0 L627.9,302.5 L628.5,301.1 L629.2,299.7 L629.8,298.2 L630.5,296.8 L631.1,295.4 L631.8,294.0 L632.4,292.5 L633.1,291.1 L633.8,289.7 L634.4,288.3 L635.1,286.9 L635.8,285.5 L636.5,284.1 L637.2,282.7 L637.9,281.2 L638.6,279.8 L639.3,278.4 L640.0,277.1 L640.7,275.7 L641.4,274.3 L642.1,272.9 L642.8,271.5 L643.6,270.1 L644.3,268.7 L645.0,267.3 L645.8,266.0 L646.5,264.6 L647.3,263.2 L648.0,261.8 L648.8,260.4 L649.5,259.1 L650.3,257.7 L651.0,256.3 L651.8,254.9 L652.5,253.5 L653.3,252.1 L654.0,250.8 L654.8,249.4 L655.5,248.0 L656.3,246.6 L657.0,245.2 L657.7,243.8 L658.5,242.4 L659.2,241.0 L659.9,239.6 L660.6,238.2 L661.3,236.7 L662.0,235.3 L662.7,233.9 L663.4,232.5 L664.1,231.0 L664.8,229.6 L665.5,228.2 L666.1,226.7 L666.8,225.3 L667.4,223.8 L668.1,222.4 L668.7,220.9 L669.3,219.5 L670.0,218.0 L670.6,216.5 L671.2,215.1 L671.8,213.6 L672.4,212.1 L672.9,210.6 L673.5,209.2 L674.1,207.7 L674.6,206.2 L675.2,204.7 L675.7,203.2 L676.3,201.7 L676.8,200.2 L677.3,198.8 L677.8,197.3 L678.3,195.8 L678.8,194.3 L679.3,192.7 L679.8,191.2 L680.3,189.7 L680.7,188.2 L681.2,186.7 L681.6,185.2 L682.1,183.7 L682.5,182.2 L682.9,180.6 L683.4,179.1 L683.8,177.6 L684.2,176.1 L684.6,174.5 L684.9,173.0 L685.3,171.5 L685.7,170.0 L686.0,168.4Z" fill="#000"/>
<path d="M688.1,168.6 L688.7,170.0 L689.3,171.5 L689.9,173.0 L690.5,174.5 L691.1,175.9 L691.7,177.4 L692.3,178.8 L692.9,180.3 L693.5,181.7 L694.1,183.2 L694.7,184.6 L695.3,186.1 L695.9,187.5 L696.6,189.0 L697.2,190.4 L697.8,191.9 L698.4,193.3 L699.0,194.8 L699.6,196.2 L700.2,197.6 L700.8,199.1 L701.5,200.5 L702.1,202.0 L702.7,203.4 L703.3,204.8 L703.9,206.3 L704.5,207.7 L705.1,209.2 L705.7,210.6 L706.3,212.1 L706.9,213.5 L707.5,215.0 L708.1,216.4 L708.7,217.9 L709.3,219.3 L709.9,220.8 L710.5,222.2 L711.1,223.6 L711.7,225.1 L712.4,226.5 L713.0,228.0 L713.6,229.4 L714.3,230.9 L714.9,232.3 L715.5,233.8 L716.2,235.2 L716.9,236.6 L717.5,238.1 L718.2,239.5 L718.9,240.9 L719.6,242.4 L720.3,243.8 L721.0,245.2 L721.7,246.6 L722.4,248.0 L723.1,249.5 L723.8,250.9 L724.5,252.3 L725.2,253.7 L725.9,255.1 L726.6,256.5 L727.3,257.9 L728.0,259.3 L728.7,260.7 L729.4,262.1 L730.1,263.5 L730.8,264.9 L731.5,266.3 L732.2,267.7 L732.9,269.1 L733.6,270.5 L734.2,271.9 L734.9,273.3 L735.6,274.7 L736.2,276.2 L736.9,277.6 L737.5,279.0 L738.2,280.4 L738.9,281.9 L739.5,283.3 L740.2,284.8 L740.9,286.2 L741.6,287.6 L742.3,289.1 L743.0,290.5 L743.7,291.9 L744.5,293.3 L745.2,294.7 L745.9,296.2 L746.7,297.6 L747.4,299.0 L748.2,300.3 L748.9,301.7 L749.6,303.1 L750.4,304.5 L751.1,305.9 L751.8,307.3 L752.5,308.7 L753.2,310.1 L753.9,311.4 L754.6,312.8 L755.3,314.2 L756.0,315.6 L756.6,317.0 L757.3,318.4 L757.9,319.8 L758.5,321.2 L759.1,322.6 L759.7,324.0 L760.3,325.4 L760.8,326.9 L761.4,328.3 L762.0,329.8 L762.5,331.2 L763.0,332.7 L763.6,334.2 L764.1,335.6 L764.7,337.1 L765.2,338.6 L765.8,340.1 L766.3,341.6 L766.9,343.0 L767.5,344.5 L768.0,346.0 L768.6,347.5 L769.2,348.9 L769.8,350.4 L770.4,351.9 L770.9,353.3 L771.5,354.8 L772.1,356.3 L772.7,357.7 L773.3,359.2 L773.9,360.6 L774.6,362.1 L775.2,363.5 L775.8,365.0 L776.4,366.5 L777.0,367.9 L777.7,369.4 L778.3,370.8 L778.9,372.2 L779.6,373.7 L780.2,375.1 L780.9,376.6 L781.5,378.0 L782.2,379.5 L782.8,380.9 L783.5,382.3 L784.2,383.8 L784.8,385.2 L785.5,386.6 L786.2,388.1 L786.9,389.5 L787.6,390.9 L788.2,392.3 L788.9,393.8 L789.6,395.2 L790.3,396.6 L791.0,398.0 L791.7,399.5 L792.4,400.9 L793.1,402.3 L793.8,403.7 L794.6,405.1 L795.3,406.5 L796.0,408.0 L796.7,409.4 L797.4,410.8 L798.2,412.2 L798.9,413.6 L799.6,415.0 L800.3,416.4 L801.1,417.8 L801.8,419.2 L802.5,420.6 L803.3,422.0 L804.0,423.4 L804.7,424.8 L805.5,426.2 L806.2,427.6 L807.0,429.0 L807.7,430.4 L808.5,431.8 L809.2,433.2 L810.0,434.6 L810.7,435.9 L811.5,437.3 L812.2,438.7 L813.0,440.1 L813.7,441.5 L814.5,442.9 L815.2,444.3 L815.9,445.6 L816.7,447.0 L817.4,448.4 L818.2,449.8 L818.9,451.2 L819.7,452.5 L820.4,453.9 L821.2,455.3 L821.9,456.7 L822.7,458.1 L823.4,459.4 L824.2,460.8 L824.9,462.2 L825.7,463.6 L826.4,465.0 L827.1,466.3 L827.9,467.7 L828.6,469.1 L829.3,470.5 L830.1,471.9 L830.8,473.3 L831.5,474.6 L832.2,476.0 L833.0,477.4 L833.7,478.8 L834.4,480.2 L835.1,481.6 L835.8,483.0 L836.5,484.4 L837.2,485.8 L837.9,487.2 L838.6,488.6 L839.3,490.0 L840.0,491.4 L840.7,492.8 L841.4,494.2 L842.1,495.6 L842.8,497.0 L843.5,498.5 L844.1,499.9 L844.8,501.3 L845.5,502.7 L846.2,504.1 L846.8,505.5 L847.5,507.0 L848.2,508.4 L848.8,509.8 L849.5,511.2 L850.2,512.7 L850.8,514.1 L851.5,515.5 L852.1,516.9 L852.8,518.4 L853.4,519.8 L854.1,521.2 L854.8,522.7 L855.4,524.1 L856.1,525.5 L856.7,527.0 L857.4,528.4 L858.0,529.8 L858.6,531.2 L859.3,532.7 L859.9,534.1 L860.6,535.6 L861.2,537.0 L861.9,538.4 L862.5,539.9 L863.1,541.3 L863.8,542.7 L864.4,544.2 L865.1,545.6 L865.7,547.0 L866.3,548.5 L867.0,549.9 L867.6,551.4 L868.2,552.8 L868.9,554.2 L869.5,555.7 L870.1,557.1 L870.8,558.6 L871.4,560.0 L872.0,561.4 L872.7,562.9 L873.3,564.3 L873.9,565.8 L874.5,567.2 L875.2,568.6 L875.8,570.1 L876.4,571.5 L877.0,573.0 L877.7,574.4 L878.3,575.9 L878.9,577.3 L879.5,578.7 L880.2,580.2 L880.8,581.6 L881.4,583.1 L882.0,584.5 L882.7,586.0 L883.3,587.4 L883.9,588.9 L884.5,590.3 L885.1,591.8 L885.8,593.2 L886.4,594.6 L887.0,596.1 L887.6,597.5 L888.2,599.0 L888.9,600.4 L889.5,601.9 L890.1,603.3 L890.7,604.8 L891.4,606.2 L892.0,607.7 L892.6,609.1 L893.2,610.6 L893.8,612.0 L894.5,613.4 L895.1,614.9 L895.7,616.3 L896.3,617.8 L896.9,619.2 L897.6,620.7 L898.2,622.1 L898.8,623.6 L899.4,625.0 L900.1,626.5 L900.7,627.9 L901.3,629.4 L901.9,630.8 L902.6,632.3 L903.2,633.7 L903.8,635.1 L904.5,636.6 L905.1,638.0 L905.7,639.5 L906.4,640.9 L907.0,642.4 L907.7,643.8 L908.3,645.3 L908.9,646.7 L909.6,648.1 L910.3,649.6 L910.9,651.0 L911.6,652.5 L912.2,653.9 L912.9,655.3 L913.6,656.8 L914.2,658.2 L914.9,659.6 L915.6,661.1 L916.3,662.5 L916.9,663.9 L917.6,665.4 L918.3,666.8 L919.0,668.2 L919.7,669.6 L920.4,671.0 L921.2,672.5 L921.9,673.9 L922.6,675.3 L923.3,676.7 L924.0,678.1 L924.8,679.5 L925.5,680.9 L926.2,682.3 L926.9,683.7 L927.6,685.1 L928.3,686.5 L929.0,687.9 L929.7,689.3 L930.4,690.7 L931.1,692.1 L931.8,693.5 L932.5,694.9 L933.1,696.3 L933.8,697.7 L934.4,699.1 L935.1,700.5 L935.7,701.9 L936.3,703.3 L936.9,704.8 L937.5,706.2 L938.1,707.6 L938.6,709.1 L939.2,710.5 L939.8,712.0 L940.3,713.5 L940.9,714.9 L941.4,716.4 L942.0,717.9 L942.6,719.4 L943.1,720.9 L943.7,722.3 L944.3,723.8 L944.9,725.3 L945.5,726.8 L946.1,728.3 L946.7,729.7 L947.4,731.2 L948.0,732.7 L948.7,734.2 L949.4,735.6 L950.1,737.1 L950.8,738.5 L951.5,739.9 L952.3,741.4 L953.0,742.8 L953.8,744.2 L954.6,745.6 L955.4,747.0 L956.1,748.3 L956.9,749.7 L957.7,751.1 L958.5,752.5 L959.3,753.8 L960.1,755.2 L960.9,756.6 L961.7,757.9 L962.5,759.3 L963.3,760.6 L964.1,762.0 L964.9,763.3 L965.7,764.7 L966.4,766.0 L967.2,767.4 L968.0,768.8 L968.7,770.1 L969.5,771.5 L970.2,772.8 L970.9,774.2 L971.7,775.6 L972.4,776.9 L973.1,778.3 L973.7,779.7 L974.4,781.1 L975.1,782.5 L975.7,783.9 L976.3,785.3 L976.9,786.7 L977.5,788.1 L978.1,789.5 L978.7,790.9 L979.3,792.4 L979.9,793.9 L980.4,795.3 L981.0,796.8 L981.6,798.3 L982.1,799.7 L982.7,801.2 L983.3,802.7 L983.9,804.2 L984.5,805.6 L985.1,807.1 L985.7,808.6 L986.3,810.0 L986.9,811.5 L987.6,813.0 L988.2,814.4 L988.8,815.9 L989.4,817.3 L990.0,818.8 L990.7,820.2 L991.3,821.7 L991.9,823.1 L992.5,824.6 L993.1,826.0 L993.8,827.5 L994.4,828.9 L995.0,830.4 L995.6,831.8 L996.2,833.2 L996.8,834.7 L997.4,836.1 L998.0,837.6 L998.6,839.0 L999.2,840.5 L999.8,841.9 L1000.4,843.4 L1001.0,844.8 L1001.5,846.3 L1002.1,847.7 L1002.6,849.2 L1003.2,850.6 L1003.7,852.1 L1004.2,853.5 L1004.8,855.0 L1005.3,856.4 L1005.8,857.9 L1006.3,859.4 L1006.7,860.8 L1007.2,862.3 L1007.7,863.8 L1008.1,865.3 L1008.6,866.7 L1009.0,868.2 L1009.4,869.7 L1009.8,871.2 L1010.2,872.7 L1010.5,874.2 L1010.9,875.7 L1011.2,877.2 L1011.6,878.7 L1011.9,880.2 L1012.2,881.7 L1019.6,880.3 L1019.3,878.7 L1019.0,877.1 L1018.7,875.5 L1018.3,874.0 L1017.9,872.4 L1017.5,870.8 L1017.1,869.3 L1016.7,867.7 L1016.3,866.2 L1015.9,864.6 L1015.4,863.1 L1014.9,861.5 L1014.5,860.0 L1014.0,858.5 L1013.5,857.0 L1013.0,855.5 L1012.5,854.0 L1011.9,852.4 L1011.4,850.9 L1010.8,849.5 L1010.3,848.0 L1009.7,846.5 L1009.2,845.0 L1008.6,843.5 L1008.0,842.0 L1007.4,840.5 L1006.9,839.1 L1006.3,837.6 L1005.7,836.1 L1005.1,834.7 L1004.4,833.2 L1003.8,831.7 L1003.2,830.3 L1002.6,828.8 L1002.0,827.4 L1001.4,825.9 L1000.7,824.5 L1000.1,823.0 L999.5,821.6 L998.9,820.1 L998.3,818.7 L997.6,817.2 L997.0,815.8 L996.4,814.3 L995.8,812.9 L995.2,811.4 L994.6,810.0 L993.9,808.6 L993.3,807.1 L992.7,805.7 L992.1,804.2 L991.5,802.8 L991.0,801.3 L990.4,799.9 L989.8,798.4 L989.2,797.0 L988.6,795.5 L988.1,794.0 L987.5,792.6 L986.9,791.1 L986.3,789.6 L985.8,788.1 L985.2,786.6 L984.5,785.2 L983.9,783.7 L983.3,782.2 L982.6,780.7 L981.9,779.3 L981.3,777.8 L980.6,776.4 L979.9,774.9 L979.1,773.5 L978.4,772.1 L977.7,770.6 L976.9,769.2 L976.1,767.8 L975.4,766.4 L974.6,765.0 L973.8,763.7 L973.0,762.3 L972.2,760.9 L971.5,759.5 L970.7,758.2 L969.9,756.8 L969.1,755.4 L968.3,754.1 L967.5,752.7 L966.7,751.4 L965.9,750.0 L965.1,748.6 L964.3,747.3 L963.5,745.9 L962.7,744.6 L962.0,743.2 L961.2,741.9 L960.5,740.5 L959.7,739.2 L959.0,737.8 L958.3,736.4 L957.6,735.1 L956.9,733.7 L956.2,732.3 L955.6,731.0 L954.9,729.6 L954.3,728.2 L953.7,726.8 L953.1,725.3 L952.5,723.9 L951.9,722.5 L951.4,721.0 L950.8,719.6 L950.2,718.1 L949.7,716.7 L949.1,715.2 L948.5,713.7 L948.0,712.2 L947.4,710.8 L946.9,709.3 L946.3,707.8 L945.7,706.3 L945.1,704.8 L944.5,703.3 L943.9,701.9 L943.3,700.4 L942.7,698.9 L942.0,697.4 L941.4,696.0 L940.7,694.5 L940.0,693.1 L939.3,691.6 L938.6,690.2 L938.0,688.7 L937.2,687.3 L936.5,685.9 L935.8,684.5 L935.1,683.1 L934.4,681.7 L933.7,680.2 L933.0,678.8 L932.2,677.4 L931.5,676.0 L930.8,674.6 L930.1,673.2 L929.4,671.8 L928.6,670.4 L927.9,669.0 L927.2,667.6 L926.5,666.2 L925.9,664.8 L925.2,663.4 L924.5,662.0 L923.8,660.6 L923.1,659.2 L922.4,657.8 L921.8,656.4 L921.1,655.0 L920.4,653.6 L919.8,652.1 L919.1,650.7 L918.5,649.3 L917.8,647.9 L917.2,646.4 L916.5,645.0 L915.9,643.6 L915.2,642.2 L914.6,640.7 L914.0,639.3 L913.3,637.9 L912.7,636.4 L912.1,635.0 L911.4,633.5 L910.8,632.1 L910.2,630.7 L909.5,629.2 L908.9,627.8 L908.3,626.3 L907.7,624.9 L907.0,623.5 L906.4,622.0 L905.8,620.6 L905.2,619.1 L904.6,617.7 L903.9,616.2 L903.3,614.8 L902.7,613.3 L902.1,611.9 L901.4,610.4 L900.8,609.0 L900.2,607.6 L899.6,606.1 L899.0,604.7 L898.3,603.2 L897.7,601.8 L897.1,600.3 L896.5,598.9 L895.9,597.4 L895.2,596.0 L894.6,594.5 L894.0,593.1 L893.4,591.6 L892.7,590.2 L892.1,588.8 L891.5,587.3 L890.9,585.9 L890.3,584.4 L889.6,583.0 L889.0,581.5 L888.4,580.1 L887.8,578.6 L887.1,577.2 L886.5,575.7 L885.9,574.3 L885.3,572.8 L884.6,571.4 L884.0,570.0 L883.4,568.5 L882.8,567.1 L882.1,565.6 L881.5,564.2 L880.9,562.7 L880.2,561.3 L879.6,559.8 L879.0,558.4 L878.4,557.0 L877.7,555.5 L877.1,554.1 L876.5,552.6 L875.8,551.2 L875.2,549.7 L874.6,548.3 L873.9,546.9 L873.3,545.4 L872.6,544.0 L872.0,542.5 L871.4,541.1 L870.7,539.6 L870.1,538.2 L869.4,536.8 L868.8,535.3 L868.2,533.9 L867.5,532.4 L866.9,531.0 L866.2,529.6 L865.6,528.1 L864.9,526.7 L864.3,525.3 L863.6,523.8 L863.0,522.4 L862.3,520.9 L861.7,519.5 L861.0,518.1 L860.4,516.6 L859.7,515.2 L859.0,513.8 L858.4,512.3 L857.7,510.9 L857.0,509.5 L856.4,508.0 L855.7,506.6 L855.0,505.2 L854.4,503.7 L853.7,502.3 L853.0,500.9 L852.4,499.4 L851.7,498.0 L851.0,496.6 L850.3,495.2 L849.6,493.7 L848.9,492.3 L848.2,490.9 L847.5,489.5 L846.8,488.0 L846.1,486.6 L845.4,485.2 L844.7,483.8 L844.0,482.4 L843.3,481.0 L842.6,479.6 L841.9,478.1 L841.2,476.7 L840.4,475.3 L839.7,473.9 L839.0,472.5 L838.3,471.1 L837.5,469.7 L836.8,468.3 L836.1,466.9 L835.3,465.5 L834.6,464.2 L833.8,462.8 L833.1,461.4 L832.4,460.0 L831.6,458.6 L830.9,457.2 L830.1,455.8 L829.4,454.4 L828.6,453.1 L827.9,451.7 L827.1,450.3 L826.4,448.9 L825.6,447.5 L824.9,446.2 L824.1,444.8 L823.4,443.4 L822.6,442.0 L821.9,440.6 L821.1,439.2 L820.4,437.9 L819.6,436.5 L818.9,435.1 L818.1,433.7 L817.4,432.3 L816.6,431.0 L815.9,429.6 L815.2,428.2 L814.4,426.8 L813.7,425.4 L812.9,424.0 L812.2,422.6 L811.5,421.2 L810.7,419.9 L810.0,418.5 L809.3,417.1 L808.5,415.7 L807.8,414.3 L807.1,412.9 L806.4,411.5 L805.6,410.1 L804.9,408.7 L804.2,407.3 L803.5,405.9 L802.8,404.5 L802.1,403.1 L801.3,401.7 L800.6,400.3 L799.9,398.9 L799.2,397.5 L798.5,396.1 L797.8,394.7 L797.1,393.3 L796.5,391.9 L795.8,390.5 L795.1,389.0 L794.4,387.6 L793.7,386.2 L793.1,384.8 L792.4,383.4 L791.7,382.0 L791.1,380.6 L790.4,379.1 L789.7,377.7 L789.1,376.3 L788.4,374.9 L787.8,373.5 L787.2,372.0 L786.5,370.6 L785.9,369.2 L785.3,367.7 L784.6,366.3 L784.0,364.9 L783.4,363.5 L782.8,362.0 L782.2,360.6 L781.6,359.1 L781.0,357.7 L780.4,356.3 L779.8,354.8 L779.2,353.4 L778.6,351.9 L778.0,350.5 L777.4,349.0 L776.8,347.6 L776.3,346.1 L775.7,344.7 L775.1,343.2 L774.6,341.8 L774.0,340.3 L773.5,338.9 L772.9,337.4 L772.4,335.9 L771.8,334.5 L771.3,333.0 L770.7,331.5 L770.2,330.0 L769.6,328.6 L769.1,327.1 L768.5,325.6 L767.9,324.1 L767.4,322.6 L766.8,321.1 L766.1,319.6 L765.5,318.2 L764.9,316.7 L764.2,315.2 L763.5,313.8 L762.8,312.3 L762.1,310.9 L761.4,309.4 L760.7,308.0 L760.0,306.6 L759.3,305.2 L758.5,303.8 L757.8,302.4 L757.0,301.0 L756.3,299.6 L755.5,298.2 L754.8,296.8 L754.0,295.4 L753.3,294.0 L752.6,292.7 L751.8,291.3 L751.1,289.9 L750.4,288.5 L749.7,287.1 L749.0,285.7 L748.3,284.3 L747.6,283.0 L746.9,281.6 L746.2,280.2 L745.5,278.7 L744.8,277.3 L744.2,275.9 L743.5,274.5 L742.8,273.1 L742.1,271.6 L741.4,270.2 L740.7,268.8 L740.0,267.4 L739.3,265.9 L738.6,264.5 L737.9,263.1 L737.2,261.7 L736.5,260.3 L735.7,258.9 L735.0,257.5 L734.3,256.1 L733.5,254.7 L732.8,253.3 L732.1,251.9 L731.3,250.5 L730.6,249.1 L729.9,247.7 L729.1,246.3 L728.4,245.0 L727.7,243.6 L727.0,242.2 L726.3,240.8 L725.5,239.4 L724.8,238.0 L724.1,236.6 L723.4,235.2 L722.8,233.8 L722.1,232.4 L721.4,231.0 L720.7,229.6 L720.0,228.2 L719.4,226.8 L718.7,225.4 L718.0,224.0 L717.4,222.6 L716.7,221.2 L716.0,219.7 L715.4,218.3 L714.7,216.9 L714.0,215.5 L713.4,214.1 L712.7,212.6 L712.0,211.2 L711.4,209.8 L710.7,208.4 L710.0,207.0 L709.3,205.6 L708.6,204.1 L708.0,202.7 L707.3,201.3 L706.6,199.9 L705.9,198.5 L705.2,197.1 L704.5,195.7 L703.8,194.3 L703.1,192.9 L702.4,191.5 L701.7,190.0 L701.0,188.6 L700.3,187.2 L699.6,185.8 L698.9,184.4 L698.2,183.0 L697.5,181.6 L696.9,180.2 L696.2,178.8 L695.5,177.4 L694.8,176.0 L694.1,174.6 L693.5,173.1 L692.8,171.7 L692.2,170.3 L691.5,168.9 L690.9,167.4Z" fill="#000"/>
<path d="M555.9,442.4 L556.6,442.5 L557.2,442.5 L557.9,442.5 L558.5,442.5 L559.2,442.5 L559.9,442.5 L560.5,442.5 L561.2,442.5 L561.8,442.5 L562.5,442.5 L563.1,442.5 L563.8,442.5 L564.5,442.5 L565.1,442.4 L565.8,442.4 L566.4,442.4 L567.1,442.3 L567.7,442.3 L568.4,442.3 L569.0,442.2 L569.7,442.2 L570.3,442.1 L571.0,442.1 L571.6,442.0 L572.3,442.0 L572.9,441.9 L573.6,441.9 L574.2,441.8 L574.8,441.8 L575.5,441.7 L576.1,441.6 L576.8,441.6 L577.4,441.5 L578.1,441.4 L578.7,441.4 L579.4,441.3 L580.0,441.3 L580.6,441.2 L581.3,441.1 L581.9,441.1 L582.5,441.0 L583.2,440.9 L583.8,440.9 L584.5,440.8 L585.1,440.8 L585.7,440.7 L586.4,440.6 L587.0,440.6 L587.6,440.5 L588.3,440.5 L588.9,440.4 L589.5,440.4 L590.2,440.3 L590.8,440.3 L591.4,440.2 L592.1,440.2 L592.7,440.1 L593.3,440.1 L593.9,440.1 L594.6,440.0 L595.2,440.0 L595.8,440.0 L596.5,440.0 L597.1,439.9 L597.7,439.9 L598.4,439.9 L599.0,439.9 L599.6,439.9 L600.2,439.8 L600.9,439.8 L601.5,439.8 L602.1,439.8 L602.8,439.8 L603.4,439.8 L604.0,439.8 L604.7,439.8 L605.3,439.8 L605.9,439.8 L606.6,439.8 L607.2,439.8 L607.8,439.8 L608.5,439.8 L609.1,439.8 L609.7,439.8 L610.4,439.9 L611.0,439.9 L611.7,439.9 L612.3,439.9 L612.9,439.9 L613.6,439.9 L614.2,439.9 L614.8,439.9 L615.5,439.9 L616.1,440.0 L616.8,440.0 L617.4,440.0 L618.0,440.0 L618.7,440.0 L619.3,440.0 L620.0,440.0 L620.6,440.0 L621.2,440.0 L621.9,440.0 L622.5,440.1 L623.2,440.1 L623.8,440.1 L624.4,440.1 L625.1,440.1 L625.7,440.1 L626.4,440.1 L627.0,440.1 L627.7,440.1 L628.3,440.1 L628.9,440.1 L629.6,440.1 L630.2,440.1 L630.9,440.1 L631.5,440.1 L632.1,440.1 L632.8,440.1 L633.4,440.1 L634.1,440.0 L634.7,440.0 L635.4,440.0 L636.0,440.0 L636.6,440.0 L637.3,440.0 L637.9,440.0 L638.6,440.0 L639.2,439.9 L639.9,439.9 L640.5,439.9 L641.1,439.9 L641.8,439.9 L642.4,439.9 L643.1,439.8 L643.7,439.8 L644.4,439.8 L645.0,439.8 L645.6,439.8 L646.3,439.7 L646.9,439.7 L647.6,439.7 L648.2,439.7 L648.9,439.6 L649.5,439.6 L650.1,439.6 L650.8,439.5 L651.4,439.5 L652.1,439.5 L652.7,439.5 L653.4,439.4 L654.0,439.4 L654.6,439.4 L655.3,439.3 L655.9,439.3 L656.6,439.3 L657.2,439.2 L657.9,439.2 L658.5,439.2 L659.1,439.1 L659.8,439.1 L660.4,439.0 L661.1,439.0 L661.7,439.0 L662.4,438.9 L663.0,438.9 L663.6,438.8 L664.3,438.8 L664.9,438.8 L665.6,438.7 L666.2,438.7 L666.9,438.6 L667.5,438.6 L668.1,438.6 L668.8,438.5 L669.4,438.5 L670.1,438.4 L670.7,438.4 L671.4,438.3 L672.0,438.3 L672.6,438.2 L673.3,438.2 L673.9,438.1 L674.6,438.1 L675.2,438.1 L675.9,438.0 L676.5,438.0 L677.1,437.9 L677.8,437.9 L678.4,437.8 L679.1,437.8 L679.7,437.7 L680.4,437.7 L681.0,437.6 L681.6,437.6 L682.3,437.5 L682.9,437.5 L683.6,437.4 L684.2,437.4 L684.8,437.3 L685.5,437.3 L686.1,437.2 L686.8,437.2 L687.4,437.1 L688.0,437.1 L688.7,437.1 L689.3,437.0 L689.9,437.0 L690.6,437.0 L691.2,436.9 L691.8,436.9 L692.5,436.9 L693.1,436.9 L693.7,436.8 L694.4,436.8 L695.0,436.8 L695.6,436.8 L696.2,436.8 L696.9,436.8 L697.5,436.8 L698.1,436.8 L698.7,436.8 L699.4,436.8 L700.0,436.9 L700.6,436.9 L701.2,436.9 L701.8,436.9 L702.5,437.0 L703.1,437.0 L703.7,437.1 L704.3,437.1 L704.9,437.2 L705.6,437.3 L706.2,437.3 L706.8,437.4 L707.4,437.5 L708.1,437.6 L708.7,437.7 L709.3,437.8 L709.9,437.8 L710.6,437.9 L711.2,438.0 L711.8,438.1 L712.5,438.2 L713.1,438.3 L713.7,438.4 L714.4,438.6 L715.0,438.7 L715.6,438.8 L716.3,438.9 L716.9,439.0 L717.6,439.1 L718.2,439.2 L718.8,439.3 L719.5,439.4 L720.1,439.5 L720.8,439.6 L721.4,439.7 L722.1,439.8 L722.7,439.9 L723.4,439.9 L724.0,440.0 L724.7,440.1 L725.3,440.2 L726.0,440.2 L726.7,440.3 L727.3,440.3 L728.0,440.4 L728.6,440.4 L729.3,440.5 L729.9,440.5 L730.6,440.5 L731.2,440.6 L731.9,440.6 L732.6,440.6 L733.2,440.6 L733.9,440.6 L734.5,440.6 L735.2,440.6 L735.8,440.6 L736.5,440.6 L737.1,440.6 L737.8,440.5 L738.5,440.5 L739.1,440.5 L739.8,440.4 L740.4,440.4 L741.1,440.4 L741.7,440.3 L742.4,440.2 L743.0,440.2 L743.7,440.1 L744.3,440.1 L745.0,440.0 L745.6,439.9 L746.3,439.8 L746.9,439.8 L747.6,439.7 L748.2,439.6 L748.9,439.5 L749.5,439.4 L750.1,439.4 L750.8,439.3 L751.4,439.2 L752.0,439.1 L752.7,439.0 L753.3,438.9 L753.9,438.9 L754.6,438.8 L755.2,438.7 L755.8,438.6 L756.4,438.6 L757.1,438.5 L757.7,438.5 L758.3,438.4 L758.9,438.4 L759.6,438.3 L760.2,438.3 L760.8,438.2 L761.4,438.2 L762.0,438.2 L762.6,438.2 L763.3,438.2 L763.9,438.1 L764.5,438.1 L765.1,438.1 L765.8,438.1 L766.4,438.1 L767.0,438.2 L767.6,438.2 L768.3,438.2 L768.9,438.2 L769.5,438.2 L770.2,438.3 L770.8,438.3 L771.4,438.3 L772.1,438.3 L772.7,438.4 L773.3,438.4 L774.0,438.4 L774.6,438.5 L775.2,438.5 L775.9,438.6 L776.5,438.6 L777.1,438.6 L777.8,438.7 L778.4,438.7 L779.1,438.8 L779.7,438.8 L780.3,438.8 L781.0,438.9 L781.6,438.9 L782.3,439.0 L782.9,439.0 L783.5,439.0 L784.2,439.1 L784.8,439.1 L785.5,439.1 L786.1,439.2 L786.8,439.2 L787.4,439.2 L788.1,439.2 L788.7,439.3 L789.4,439.3 L790.0,439.3 L790.7,439.3 L791.3,439.3 L791.9,439.3 L792.6,439.3 L793.2,439.3 L793.9,439.3 L794.5,439.3 L795.2,439.3 L795.8,439.2 L796.5,439.2 L797.1,439.2 L797.8,439.1 L798.4,439.1 L799.1,439.0 L799.7,439.0 L800.4,438.9 L801.0,438.8 L801.7,438.7 L802.3,438.7 L803.0,438.6 L803.6,438.5 L804.3,438.4 L804.9,438.2 L805.5,438.1 L806.2,438.0 L806.8,437.8 L807.5,437.7 L808.1,437.5 L808.7,437.4 L809.4,437.2 L810.0,437.0 L810.6,436.8 L811.3,436.6 L810.7,434.5 L810.1,434.6 L809.5,434.7 L808.9,434.8 L808.2,434.9 L807.6,434.9 L807.0,435.0 L806.4,435.1 L805.8,435.1 L805.1,435.1 L804.5,435.2 L803.9,435.2 L803.3,435.2 L802.7,435.3 L802.0,435.3 L801.4,435.3 L800.8,435.3 L800.2,435.3 L799.6,435.3 L798.9,435.3 L798.3,435.3 L797.7,435.3 L797.1,435.3 L796.4,435.3 L795.8,435.2 L795.2,435.2 L794.6,435.2 L794.0,435.2 L793.3,435.1 L792.7,435.1 L792.1,435.1 L791.5,435.0 L790.8,435.0 L790.2,434.9 L789.6,434.9 L788.9,434.8 L788.3,434.8 L787.7,434.7 L787.0,434.7 L786.4,434.6 L785.8,434.6 L785.1,434.5 L784.5,434.5 L783.9,434.4 L783.2,434.4 L782.6,434.3 L782.0,434.2 L781.3,434.2 L780.7,434.1 L780.1,434.1 L779.4,434.0 L778.8,434.0 L778.1,433.9 L777.5,433.9 L776.8,433.8 L776.2,433.8 L775.6,433.7 L774.9,433.7 L774.3,433.6 L773.6,433.6 L773.0,433.5 L772.3,433.5 L771.7,433.5 L771.0,433.4 L770.4,433.4 L769.7,433.4 L769.1,433.3 L768.4,433.3 L767.8,433.3 L767.1,433.3 L766.4,433.3 L765.8,433.3 L765.1,433.3 L764.5,433.3 L763.8,433.3 L763.2,433.3 L762.5,433.3 L761.9,433.3 L761.2,433.4 L760.5,433.4 L759.9,433.4 L759.2,433.5 L758.6,433.5 L757.9,433.6 L757.2,433.6 L756.6,433.7 L755.9,433.8 L755.3,433.9 L754.6,433.9 L754.0,434.0 L753.3,434.1 L752.7,434.2 L752.1,434.3 L751.4,434.3 L750.8,434.4 L750.1,434.5 L749.5,434.6 L748.9,434.7 L748.2,434.8 L747.6,434.9 L747.0,434.9 L746.3,435.0 L745.7,435.1 L745.1,435.2 L744.5,435.2 L743.8,435.3 L743.2,435.4 L742.6,435.4 L742.0,435.5 L741.3,435.5 L740.7,435.6 L740.1,435.6 L739.5,435.7 L738.9,435.7 L738.2,435.7 L737.6,435.8 L737.0,435.8 L736.4,435.8 L735.7,435.8 L735.1,435.8 L734.5,435.8 L733.9,435.8 L733.3,435.8 L732.6,435.8 L732.0,435.8 L731.4,435.8 L730.8,435.8 L730.2,435.7 L729.6,435.7 L728.9,435.7 L728.3,435.6 L727.7,435.6 L727.1,435.5 L726.5,435.5 L725.8,435.4 L725.2,435.3 L724.6,435.3 L724.0,435.2 L723.4,435.1 L722.7,435.0 L722.1,434.9 L721.5,434.8 L720.9,434.7 L720.2,434.6 L719.6,434.5 L719.0,434.4 L718.3,434.3 L717.7,434.2 L717.1,434.1 L716.4,434.0 L715.8,433.9 L715.2,433.8 L714.5,433.7 L713.9,433.6 L713.2,433.5 L712.6,433.4 L711.9,433.3 L711.3,433.2 L710.7,433.1 L710.0,433.0 L709.4,432.9 L708.7,432.8 L708.1,432.7 L707.4,432.6 L706.8,432.6 L706.1,432.5 L705.4,432.4 L704.8,432.4 L704.1,432.3 L703.5,432.2 L702.8,432.2 L702.1,432.1 L701.5,432.1 L700.8,432.1 L700.2,432.0 L699.5,432.0 L698.8,432.0 L698.2,432.0 L697.5,432.0 L696.9,432.0 L696.2,432.0 L695.6,432.0 L694.9,432.0 L694.3,432.0 L693.6,432.0 L692.9,432.1 L692.3,432.1 L691.6,432.1 L691.0,432.1 L690.3,432.2 L689.7,432.2 L689.0,432.2 L688.4,432.3 L687.7,432.3 L687.1,432.3 L686.4,432.4 L685.8,432.4 L685.1,432.5 L684.5,432.5 L683.8,432.6 L683.2,432.6 L682.6,432.7 L681.9,432.7 L681.3,432.8 L680.6,432.8 L680.0,432.9 L679.3,432.9 L678.7,433.0 L678.1,433.0 L677.4,433.1 L676.8,433.1 L676.1,433.2 L675.5,433.2 L674.9,433.3 L674.2,433.3 L673.6,433.4 L672.9,433.4 L672.3,433.5 L671.7,433.5 L671.0,433.5 L670.4,433.6 L669.7,433.6 L669.1,433.7 L668.5,433.7 L667.8,433.8 L667.2,433.8 L666.5,433.9 L665.9,433.9 L665.3,433.9 L664.6,434.0 L664.0,434.0 L663.3,434.1 L662.7,434.1 L662.1,434.1 L661.4,434.2 L660.8,434.2 L660.1,434.3 L659.5,434.3 L658.9,434.3 L658.2,434.4 L657.6,434.4 L656.9,434.4 L656.3,434.5 L655.7,434.5 L655.0,434.5 L654.4,434.6 L653.8,434.6 L653.1,434.6 L652.5,434.7 L651.8,434.7 L651.2,434.7 L650.6,434.7 L649.9,434.8 L649.3,434.8 L648.7,434.8 L648.0,434.9 L647.4,434.9 L646.7,434.9 L646.1,434.9 L645.5,435.0 L644.8,435.0 L644.2,435.0 L643.6,435.0 L642.9,435.0 L642.3,435.1 L641.6,435.1 L641.0,435.1 L640.4,435.1 L639.7,435.1 L639.1,435.2 L638.5,435.2 L637.8,435.2 L637.2,435.2 L636.6,435.2 L635.9,435.2 L635.3,435.2 L634.6,435.2 L634.0,435.2 L633.4,435.3 L632.7,435.3 L632.1,435.3 L631.5,435.3 L630.8,435.3 L630.2,435.3 L629.6,435.3 L628.9,435.3 L628.3,435.3 L627.7,435.3 L627.0,435.3 L626.4,435.3 L625.7,435.3 L625.1,435.3 L624.5,435.3 L623.8,435.3 L623.2,435.3 L622.6,435.3 L621.9,435.2 L621.3,435.2 L620.7,435.2 L620.0,435.2 L619.4,435.2 L618.8,435.2 L618.1,435.2 L617.5,435.2 L616.8,435.2 L616.2,435.2 L615.6,435.1 L614.9,435.1 L614.3,435.1 L613.6,435.1 L613.0,435.1 L612.4,435.1 L611.7,435.1 L611.1,435.1 L610.4,435.1 L609.8,435.0 L609.2,435.0 L608.5,435.0 L607.9,435.0 L607.2,435.0 L606.6,435.0 L606.0,435.0 L605.3,435.0 L604.7,435.0 L604.0,435.0 L603.4,435.0 L602.7,435.0 L602.1,435.0 L601.4,435.0 L600.8,435.0 L600.2,435.0 L599.5,435.1 L598.9,435.1 L598.2,435.1 L597.6,435.1 L596.9,435.1 L596.3,435.2 L595.6,435.2 L595.0,435.2 L594.3,435.2 L593.7,435.3 L593.0,435.3 L592.4,435.4 L591.7,435.4 L591.1,435.4 L590.4,435.5 L589.8,435.5 L589.2,435.6 L588.5,435.6 L587.9,435.7 L587.2,435.7 L586.6,435.8 L585.9,435.9 L585.3,435.9 L584.6,436.0 L584.0,436.0 L583.4,436.1 L582.7,436.2 L582.1,436.2 L581.4,436.3 L580.8,436.4 L580.2,436.4 L579.5,436.5 L578.9,436.5 L578.2,436.6 L577.6,436.7 L577.0,436.7 L576.3,436.8 L575.7,436.9 L575.0,436.9 L574.4,437.0 L573.8,437.0 L573.1,437.1 L572.5,437.1 L571.9,437.2 L571.2,437.3 L570.6,437.3 L570.0,437.4 L569.3,437.4 L568.7,437.4 L568.1,437.5 L567.4,437.5 L566.8,437.6 L566.2,437.6 L565.5,437.6 L564.9,437.6 L564.3,437.7 L563.6,437.7 L563.0,437.7 L562.4,437.7 L561.8,437.7 L561.1,437.7 L560.5,437.7 L559.9,437.7 L559.2,437.7 L558.6,437.7 L558.0,437.7 L557.4,437.7 L556.7,437.7 L556.1,437.7Z" fill="#000"/>
<path d="M491.9,590.6 L492.9,590.7 L493.9,590.7 L494.9,590.7 L495.9,590.7 L496.9,590.7 L497.9,590.7 L498.9,590.6 L499.9,590.6 L500.9,590.6 L501.9,590.5 L502.9,590.5 L503.9,590.4 L504.9,590.4 L505.9,590.3 L506.9,590.2 L507.9,590.2 L508.9,590.1 L509.9,590.0 L510.9,589.9 L511.8,589.8 L512.8,589.7 L513.8,589.6 L514.8,589.5 L515.8,589.5 L516.8,589.4 L517.7,589.3 L518.7,589.2 L519.7,589.1 L520.7,589.0 L521.6,588.9 L522.6,588.8 L523.6,588.7 L524.6,588.6 L525.5,588.5 L526.5,588.4 L527.5,588.3 L528.5,588.2 L529.4,588.1 L530.4,588.0 L531.4,587.9 L532.3,587.8 L533.3,587.8 L534.3,587.7 L535.2,587.6 L536.2,587.6 L537.1,587.5 L538.1,587.5 L539.1,587.4 L540.0,587.4 L541.0,587.3 L542.0,587.3 L542.9,587.3 L543.9,587.3 L544.8,587.2 L545.8,587.2 L546.8,587.2 L547.7,587.3 L548.7,587.3 L549.7,587.3 L550.6,587.3 L551.6,587.3 L552.6,587.4 L553.5,587.4 L554.5,587.4 L555.5,587.5 L556.5,587.5 L557.4,587.6 L558.4,587.6 L559.4,587.6 L560.4,587.7 L561.4,587.7 L562.3,587.7 L563.3,587.8 L564.3,587.8 L565.3,587.8 L566.3,587.9 L567.3,587.9 L568.3,587.9 L569.3,587.9 L570.3,587.9 L571.2,587.9 L572.2,587.9 L573.2,587.9 L574.2,587.9 L575.2,587.9 L576.2,587.8 L577.2,587.8 L578.2,587.8 L579.1,587.8 L580.1,587.7 L581.1,587.7 L582.1,587.7 L583.0,587.6 L584.0,587.6 L585.0,587.6 L586.0,587.6 L586.9,587.5 L587.9,587.5 L588.9,587.5 L589.8,587.5 L590.8,587.5 L591.7,587.5 L592.7,587.5 L593.7,587.5 L594.6,587.5 L595.6,587.5 L596.6,587.6 L597.5,587.6 L598.5,587.6 L599.5,587.7 L600.4,587.7 L601.4,587.7 L602.4,587.8 L603.3,587.8 L604.3,587.9 L605.3,587.9 L606.3,587.9 L607.3,588.0 L608.3,588.0 L609.2,588.0 L610.2,588.0 L611.2,588.1 L612.2,588.1 L613.2,588.1 L614.2,588.1 L615.2,588.1 L616.1,588.1 L617.1,588.1 L618.1,588.1 L619.1,588.1 L620.1,588.1 L621.1,588.1 L622.1,588.1 L623.0,588.1 L624.0,588.1 L625.0,588.1 L626.0,588.0 L627.0,588.0 L628.0,588.0 L628.9,588.0 L629.9,587.9 L630.9,587.9 L631.9,587.9 L632.9,587.9 L633.9,587.8 L634.8,587.8 L635.8,587.7 L636.8,587.7 L637.8,587.7 L638.8,587.6 L639.8,587.6 L640.7,587.5 L641.7,587.5 L642.7,587.4 L643.7,587.4 L644.7,587.3 L645.7,587.3 L646.6,587.2 L647.6,587.2 L648.6,587.1 L649.6,587.1 L650.6,587.0 L651.5,587.0 L652.5,586.9 L653.5,586.9 L654.5,586.8 L655.5,586.8 L656.4,586.7 L657.4,586.7 L658.4,586.6 L659.4,586.5 L660.4,586.5 L661.3,586.4 L662.3,586.4 L663.3,586.3 L664.3,586.3 L665.3,586.2 L666.2,586.2 L667.2,586.1 L668.2,586.1 L669.2,586.0 L670.1,586.0 L671.1,585.9 L672.1,585.9 L673.1,585.8 L674.1,585.8 L675.0,585.7 L676.0,585.7 L677.0,585.7 L678.0,585.6 L678.9,585.6 L679.9,585.5 L680.9,585.5 L681.8,585.5 L682.8,585.4 L683.8,585.4 L684.8,585.4 L685.7,585.4 L686.7,585.3 L687.7,585.3 L688.7,585.3 L689.6,585.3 L690.6,585.3 L691.6,585.3 L692.5,585.2 L693.5,585.2 L694.5,585.2 L695.4,585.2 L696.4,585.2 L697.4,585.2 L698.4,585.2 L699.3,585.2 L700.3,585.2 L701.3,585.3 L702.2,585.3 L703.2,585.3 L704.2,585.3 L705.1,585.3 L706.1,585.3 L707.1,585.4 L708.0,585.4 L709.0,585.4 L710.0,585.4 L711.0,585.5 L711.9,585.5 L712.9,585.5 L713.9,585.6 L714.8,585.6 L715.8,585.7 L716.8,585.7 L717.7,585.8 L718.7,585.8 L719.7,585.9 L720.7,585.9 L721.6,586.0 L722.6,586.0 L723.6,586.1 L724.5,586.1 L725.5,586.2 L726.5,586.3 L727.4,586.3 L728.4,586.4 L729.4,586.5 L730.4,586.5 L731.3,586.6 L732.3,586.7 L733.3,586.8 L734.2,586.8 L735.2,586.9 L736.2,587.0 L737.2,587.1 L738.1,587.2 L739.1,587.3 L740.1,587.3 L741.1,587.4 L742.0,587.5 L743.0,587.6 L744.0,587.7 L745.0,587.8 L745.9,587.9 L746.9,588.0 L747.9,588.1 L748.9,588.2 L749.9,588.3 L750.9,588.4 L751.9,588.4 L752.8,588.5 L753.8,588.6 L754.8,588.7 L755.8,588.7 L756.8,588.8 L757.8,588.8 L758.8,588.9 L759.8,588.9 L760.8,588.9 L761.8,589.0 L762.8,589.0 L763.8,589.0 L764.8,589.0 L765.8,588.9 L766.8,588.9 L767.8,588.9 L768.8,588.8 L769.8,588.8 L770.8,588.7 L771.8,588.6 L772.8,588.5 L773.8,588.4 L774.8,588.4 L775.8,588.3 L776.8,588.1 L777.8,588.0 L778.8,587.9 L779.7,587.8 L780.7,587.7 L781.7,587.6 L782.7,587.5 L783.7,587.3 L784.6,587.2 L785.6,587.1 L786.6,587.0 L787.5,586.9 L788.5,586.7 L789.5,586.6 L790.4,586.5 L791.4,586.4 L792.4,586.3 L793.3,586.2 L794.3,586.1 L795.3,586.0 L796.2,586.0 L797.2,585.9 L798.1,585.8 L799.1,585.8 L800.1,585.7 L801.0,585.7 L802.0,585.7 L802.9,585.6 L803.9,585.6 L804.9,585.6 L805.8,585.6 L806.8,585.6 L807.8,585.6 L808.7,585.6 L809.7,585.6 L810.7,585.6 L811.6,585.7 L812.6,585.7 L813.6,585.7 L814.5,585.7 L815.5,585.8 L816.5,585.8 L817.4,585.9 L818.4,585.9 L819.4,586.0 L820.4,586.0 L821.3,586.1 L822.3,586.1 L823.3,586.2 L824.3,586.2 L825.2,586.3 L826.2,586.4 L827.2,586.4 L828.2,586.5 L829.2,586.6 L830.1,586.6 L831.1,586.7 L832.1,586.7 L833.1,586.8 L834.1,586.8 L835.0,586.9 L836.0,587.0 L837.0,587.0 L838.0,587.1 L839.0,587.1 L840.0,587.1 L841.0,587.2 L841.9,587.2 L842.9,587.3 L843.9,587.3 L844.9,587.3 L845.9,587.3 L846.9,587.4 L847.9,587.4 L848.9,587.4 L849.9,587.4 L850.8,587.4 L851.8,587.4 L852.8,587.3 L853.8,587.3 L854.8,587.3 L855.8,587.3 L856.8,587.2 L857.8,587.2 L858.7,587.1 L859.7,587.1 L860.7,587.0 L861.7,586.9 L862.7,586.9 L863.7,586.8 L864.7,586.7 L865.6,586.6 L866.6,586.5 L867.6,586.4 L868.6,586.3 L869.6,586.2 L870.5,586.0 L871.5,585.9 L872.5,585.8 L873.5,585.6 L874.4,585.5 L875.4,585.3 L876.4,585.1 L877.3,584.9 L878.3,584.7 L879.3,584.6 L880.2,584.4 L881.2,584.1 L882.2,583.9 L881.8,581.6 L880.9,581.6 L879.9,581.7 L878.9,581.7 L877.9,581.8 L877.0,581.8 L876.0,581.9 L875.0,581.9 L874.1,581.9 L873.1,582.0 L872.1,582.0 L871.2,582.0 L870.2,582.1 L869.2,582.1 L868.3,582.1 L867.3,582.2 L866.3,582.2 L865.4,582.2 L864.4,582.2 L863.4,582.3 L862.5,582.3 L861.5,582.3 L860.5,582.3 L859.6,582.3 L858.6,582.3 L857.6,582.3 L856.7,582.4 L855.7,582.4 L854.7,582.3 L853.8,582.3 L852.8,582.3 L851.8,582.3 L850.9,582.3 L849.9,582.3 L848.9,582.3 L848.0,582.2 L847.0,582.2 L846.0,582.2 L845.1,582.1 L844.1,582.1 L843.1,582.1 L842.2,582.0 L841.2,582.0 L840.2,581.9 L839.3,581.9 L838.3,581.8 L837.3,581.8 L836.3,581.7 L835.4,581.6 L834.4,581.6 L833.4,581.5 L832.4,581.5 L831.4,581.4 L830.5,581.3 L829.5,581.3 L828.5,581.2 L827.5,581.2 L826.5,581.1 L825.6,581.0 L824.6,581.0 L823.6,580.9 L822.6,580.9 L821.6,580.8 L820.6,580.8 L819.7,580.7 L818.7,580.7 L817.7,580.6 L816.7,580.6 L815.7,580.5 L814.7,580.5 L813.7,580.5 L812.7,580.5 L811.7,580.4 L810.7,580.4 L809.8,580.4 L808.8,580.4 L807.8,580.4 L806.8,580.4 L805.8,580.4 L804.8,580.4 L803.8,580.4 L802.8,580.5 L801.8,580.5 L800.8,580.5 L799.8,580.6 L798.8,580.6 L797.8,580.7 L796.8,580.7 L795.8,580.8 L794.8,580.9 L793.8,581.0 L792.8,581.1 L791.9,581.2 L790.9,581.3 L789.9,581.4 L788.9,581.5 L787.9,581.6 L786.9,581.7 L786.0,581.8 L785.0,582.0 L784.0,582.1 L783.0,582.2 L782.0,582.3 L781.1,582.4 L780.1,582.6 L779.1,582.7 L778.2,582.8 L777.2,582.9 L776.2,583.0 L775.3,583.1 L774.3,583.2 L773.3,583.3 L772.4,583.4 L771.4,583.4 L770.5,583.5 L769.5,583.6 L768.6,583.6 L767.6,583.7 L766.6,583.7 L765.7,583.7 L764.7,583.8 L763.8,583.8 L762.8,583.8 L761.9,583.8 L760.9,583.7 L760.0,583.7 L759.0,583.7 L758.1,583.6 L757.1,583.6 L756.1,583.5 L755.2,583.5 L754.2,583.4 L753.2,583.3 L752.3,583.2 L751.3,583.2 L750.3,583.1 L749.4,583.0 L748.4,582.9 L747.4,582.8 L746.4,582.7 L745.5,582.6 L744.5,582.5 L743.5,582.4 L742.5,582.3 L741.5,582.3 L740.6,582.2 L739.6,582.1 L738.6,582.0 L737.6,581.9 L736.6,581.8 L735.6,581.7 L734.7,581.7 L733.7,581.6 L732.7,581.5 L731.7,581.4 L730.7,581.4 L729.8,581.3 L728.8,581.2 L727.8,581.1 L726.8,581.1 L725.8,581.0 L724.9,581.0 L723.9,580.9 L722.9,580.8 L721.9,580.8 L720.9,580.7 L720.0,580.7 L719.0,580.6 L718.0,580.6 L717.0,580.5 L716.0,580.5 L715.1,580.4 L714.1,580.4 L713.1,580.4 L712.1,580.3 L711.1,580.3 L710.2,580.3 L709.2,580.2 L708.2,580.2 L707.2,580.2 L706.2,580.1 L705.2,580.1 L704.3,580.1 L703.3,580.1 L702.3,580.1 L701.3,580.1 L700.3,580.0 L699.4,580.0 L698.4,580.0 L697.4,580.0 L696.4,580.0 L695.4,580.0 L694.5,580.0 L693.5,580.0 L692.5,580.0 L691.5,580.1 L690.5,580.1 L689.5,580.1 L688.6,580.1 L687.6,580.1 L686.6,580.1 L685.6,580.2 L684.6,580.2 L683.6,580.2 L682.7,580.2 L681.7,580.3 L680.7,580.3 L679.7,580.3 L678.7,580.4 L677.7,580.4 L676.8,580.5 L675.8,580.5 L674.8,580.5 L673.8,580.6 L672.8,580.6 L671.9,580.7 L670.9,580.7 L669.9,580.8 L668.9,580.8 L667.9,580.9 L666.9,580.9 L666.0,581.0 L665.0,581.0 L664.0,581.1 L663.0,581.1 L662.0,581.2 L661.1,581.2 L660.1,581.3 L659.1,581.3 L658.1,581.4 L657.1,581.5 L656.2,581.5 L655.2,581.6 L654.2,581.6 L653.2,581.7 L652.2,581.7 L651.3,581.8 L650.3,581.8 L649.3,581.9 L648.3,581.9 L647.3,582.0 L646.4,582.0 L645.4,582.1 L644.4,582.1 L643.4,582.2 L642.5,582.2 L641.5,582.3 L640.5,582.3 L639.5,582.4 L638.6,582.4 L637.6,582.5 L636.6,582.5 L635.6,582.5 L634.7,582.6 L633.7,582.6 L632.7,582.7 L631.7,582.7 L630.8,582.7 L629.8,582.8 L628.8,582.8 L627.8,582.8 L626.9,582.8 L625.9,582.8 L624.9,582.9 L623.9,582.9 L623.0,582.9 L622.0,582.9 L621.0,582.9 L620.0,582.9 L619.1,582.9 L618.1,582.9 L617.1,582.9 L616.2,582.9 L615.2,582.9 L614.2,582.9 L613.3,582.9 L612.3,582.9 L611.3,582.9 L610.4,582.9 L609.4,582.8 L608.4,582.8 L607.4,582.8 L606.5,582.7 L605.5,582.7 L604.5,582.7 L603.6,582.6 L602.6,582.6 L601.6,582.5 L600.6,582.5 L599.6,582.5 L598.7,582.4 L597.7,582.4 L596.7,582.4 L595.7,582.3 L594.7,582.3 L593.7,582.3 L592.7,582.3 L591.7,582.3 L590.8,582.3 L589.8,582.3 L588.8,582.3 L587.8,582.3 L586.8,582.3 L585.8,582.4 L584.8,582.4 L583.9,582.4 L582.9,582.4 L581.9,582.5 L580.9,582.5 L580.0,582.5 L579.0,582.6 L578.0,582.6 L577.0,582.6 L576.1,582.6 L575.1,582.7 L574.1,582.7 L573.2,582.7 L572.2,582.7 L571.2,582.7 L570.3,582.7 L569.3,582.7 L568.3,582.7 L567.4,582.7 L566.4,582.7 L565.4,582.6 L564.5,582.6 L563.5,582.6 L562.5,582.5 L561.6,582.5 L560.6,582.5 L559.6,582.4 L558.6,582.4 L557.6,582.4 L556.7,582.3 L555.7,582.3 L554.7,582.2 L553.7,582.2 L552.7,582.2 L551.7,582.1 L550.8,582.1 L549.8,582.1 L548.8,582.1 L547.8,582.1 L546.8,582.0 L545.8,582.0 L544.8,582.0 L543.8,582.1 L542.8,582.1 L541.8,582.1 L540.8,582.1 L539.8,582.2 L538.8,582.2 L537.8,582.3 L536.8,582.3 L535.9,582.4 L534.9,582.4 L533.9,582.5 L532.9,582.6 L531.9,582.7 L530.9,582.7 L529.9,582.8 L529.0,582.9 L528.0,583.0 L527.0,583.1 L526.0,583.2 L525.0,583.3 L524.0,583.4 L523.1,583.5 L522.1,583.6 L521.1,583.7 L520.1,583.8 L519.2,583.9 L518.2,584.0 L517.2,584.1 L516.2,584.2 L515.3,584.3 L514.3,584.4 L513.3,584.5 L512.3,584.6 L511.4,584.6 L510.4,584.7 L509.4,584.8 L508.5,584.9 L507.5,585.0 L506.5,585.0 L505.6,585.1 L504.6,585.2 L503.6,585.2 L502.7,585.3 L501.7,585.3 L500.7,585.4 L499.8,585.4 L498.8,585.4 L497.8,585.5 L496.9,585.5 L495.9,585.5 L495.0,585.5 L494.0,585.5 L493.0,585.5 L492.1,585.4Z" fill="#000"/>
<path d="M417.9,734.5 L419.2,734.5 L420.6,734.6 L421.9,734.6 L423.3,734.6 L424.6,734.6 L426.0,734.6 L427.3,734.6 L428.7,734.6 L430.0,734.5 L431.4,734.5 L432.7,734.4 L434.1,734.4 L435.4,734.3 L436.7,734.2 L438.1,734.1 L439.4,734.0 L440.8,733.9 L442.1,733.8 L443.4,733.7 L444.8,733.6 L446.1,733.5 L447.4,733.4 L448.8,733.3 L450.1,733.1 L451.4,733.0 L452.7,732.9 L454.1,732.8 L455.4,732.6 L456.7,732.5 L458.0,732.4 L459.4,732.2 L460.7,732.1 L462.0,732.0 L463.3,731.9 L464.7,731.7 L466.0,731.6 L467.3,731.5 L468.6,731.4 L469.9,731.3 L471.2,731.2 L472.6,731.1 L473.9,731.0 L475.2,730.9 L476.5,730.8 L477.8,730.7 L479.1,730.7 L480.4,730.6 L481.7,730.5 L483.0,730.5 L484.3,730.4 L485.6,730.4 L487.0,730.4 L488.3,730.4 L489.6,730.4 L490.9,730.4 L492.2,730.4 L493.5,730.5 L494.8,730.5 L496.1,730.6 L497.4,730.6 L498.7,730.7 L500.0,730.8 L501.3,730.9 L502.6,731.0 L504.0,731.1 L505.3,731.2 L506.6,731.3 L507.9,731.4 L509.3,731.5 L510.6,731.6 L511.9,731.6 L513.3,731.7 L514.6,731.8 L516.0,731.8 L517.3,731.9 L518.7,731.9 L520.0,731.9 L521.4,731.9 L522.8,731.9 L524.1,731.8 L525.5,731.8 L526.8,731.7 L528.2,731.6 L529.5,731.5 L530.9,731.4 L532.2,731.3 L533.6,731.1 L534.9,731.0 L536.2,730.9 L537.6,730.7 L538.9,730.6 L540.2,730.4 L541.5,730.3 L542.9,730.1 L544.2,730.0 L545.5,729.9 L546.8,729.8 L548.1,729.7 L549.4,729.6 L550.7,729.5 L552.0,729.4 L553.3,729.4 L554.5,729.3 L555.8,729.3 L557.1,729.3 L558.4,729.3 L559.7,729.3 L561.0,729.4 L562.3,729.5 L563.5,729.5 L564.8,729.6 L566.1,729.7 L567.4,729.9 L568.7,730.0 L570.0,730.2 L571.3,730.3 L572.6,730.5 L573.9,730.6 L575.2,730.8 L576.6,731.0 L577.9,731.1 L579.2,731.2 L580.6,731.4 L581.9,731.5 L583.3,731.6 L584.6,731.6 L586.0,731.7 L587.4,731.7 L588.7,731.7 L590.1,731.7 L591.4,731.7 L592.7,731.7 L594.1,731.7 L595.4,731.6 L596.8,731.6 L598.1,731.5 L599.5,731.4 L600.8,731.4 L602.1,731.3 L603.5,731.2 L604.8,731.1 L606.1,731.0 L607.5,730.9 L608.8,730.8 L610.1,730.7 L611.5,730.6 L612.8,730.5 L614.1,730.4 L615.4,730.3 L616.8,730.3 L618.1,730.2 L619.4,730.1 L620.7,730.0 L622.0,730.0 L623.3,729.9 L624.6,729.9 L626.0,729.8 L627.3,729.8 L628.6,729.7 L629.9,729.7 L631.2,729.7 L632.6,729.6 L633.9,729.6 L635.2,729.6 L636.5,729.6 L637.8,729.5 L639.2,729.5 L640.5,729.5 L641.8,729.5 L643.2,729.4 L644.5,729.4 L645.8,729.4 L647.1,729.3 L648.5,729.3 L649.8,729.3 L651.1,729.2 L652.5,729.2 L653.8,729.1 L655.1,729.0 L656.5,729.0 L657.8,728.9 L659.1,728.8 L660.5,728.8 L661.8,728.7 L663.1,728.6 L664.5,728.6 L665.8,728.5 L667.1,728.4 L668.4,728.3 L669.8,728.2 L671.1,728.2 L672.4,728.1 L673.7,728.0 L675.1,728.0 L676.4,727.9 L677.7,727.8 L679.0,727.8 L680.3,727.7 L681.7,727.6 L683.0,727.6 L684.3,727.5 L685.6,727.5 L686.9,727.5 L688.2,727.4 L689.6,727.4 L690.9,727.4 L692.2,727.3 L693.5,727.3 L694.8,727.3 L696.1,727.3 L697.4,727.3 L698.8,727.3 L700.1,727.3 L701.4,727.4 L702.7,727.4 L704.0,727.4 L705.3,727.4 L706.6,727.5 L708.0,727.5 L709.3,727.5 L710.6,727.6 L711.9,727.6 L713.2,727.7 L714.5,727.7 L715.9,727.8 L717.2,727.9 L718.5,727.9 L719.8,728.0 L721.1,728.1 L722.4,728.1 L723.7,728.2 L725.1,728.3 L726.4,728.4 L727.7,728.4 L729.0,728.5 L730.3,728.6 L731.7,728.7 L733.0,728.8 L734.3,728.9 L735.6,729.0 L736.9,729.1 L738.3,729.2 L739.6,729.3 L740.9,729.4 L742.2,729.5 L743.5,729.6 L744.9,729.7 L746.2,729.8 L747.5,729.9 L748.8,730.0 L750.1,730.1 L751.5,730.2 L752.8,730.3 L754.1,730.5 L755.4,730.6 L756.8,730.7 L758.1,730.8 L759.4,730.9 L760.7,731.0 L762.1,731.1 L763.4,731.2 L764.7,731.3 L766.1,731.4 L767.4,731.5 L768.7,731.6 L770.1,731.7 L771.4,731.8 L772.7,731.9 L774.1,732.0 L775.4,732.1 L776.7,732.2 L778.1,732.2 L779.4,732.3 L780.8,732.3 L782.1,732.4 L783.4,732.4 L784.8,732.5 L786.1,732.5 L787.5,732.5 L788.8,732.5 L790.2,732.5 L791.5,732.5 L792.9,732.5 L794.2,732.5 L795.6,732.4 L796.9,732.3 L798.2,732.3 L799.6,732.2 L800.9,732.1 L802.3,732.0 L803.6,731.9 L804.9,731.8 L806.3,731.6 L807.6,731.5 L808.9,731.4 L810.3,731.2 L811.6,731.1 L812.9,730.9 L814.3,730.8 L815.6,730.6 L816.9,730.5 L818.2,730.3 L819.5,730.2 L820.9,730.0 L822.2,729.8 L823.5,729.7 L824.8,729.5 L826.1,729.4 L827.4,729.2 L828.7,729.1 L830.1,729.0 L831.4,728.8 L832.7,728.7 L834.0,728.6 L835.3,728.5 L836.6,728.4 L837.9,728.3 L839.2,728.3 L840.5,728.2 L841.8,728.1 L843.1,728.1 L844.4,728.0 L845.7,728.0 L847.0,728.0 L848.3,728.0 L849.6,728.0 L851.0,727.9 L852.3,727.9 L853.6,728.0 L854.9,728.0 L856.2,728.0 L857.5,728.0 L858.8,728.0 L860.1,728.1 L861.5,728.1 L862.8,728.2 L864.1,728.2 L865.4,728.3 L866.7,728.3 L868.0,728.4 L869.4,728.4 L870.7,728.5 L872.0,728.6 L873.3,728.6 L874.6,728.7 L875.9,728.8 L877.3,728.9 L878.6,729.0 L879.9,729.0 L881.2,729.1 L882.5,729.2 L883.8,729.3 L885.2,729.4 L886.5,729.5 L887.8,729.6 L889.1,729.7 L890.4,729.7 L891.8,729.8 L893.1,729.9 L894.4,729.9 L895.8,730.0 L897.1,730.1 L898.4,730.1 L899.8,730.2 L901.1,730.2 L902.4,730.2 L903.8,730.2 L905.1,730.2 L906.4,730.2 L907.8,730.2 L909.1,730.2 L910.5,730.2 L911.8,730.1 L913.1,730.1 L914.5,730.0 L915.8,729.9 L917.1,729.9 L918.5,729.8 L919.8,729.7 L921.2,729.6 L922.5,729.4 L923.8,729.3 L925.2,729.2 L926.5,729.0 L927.8,728.9 L929.1,728.7 L930.5,728.5 L931.8,728.3 L933.1,728.1 L934.4,727.9 L935.7,727.7 L937.1,727.5 L938.4,727.2 L939.7,727.0 L941.0,726.8 L942.3,726.5 L943.6,726.2 L944.9,725.9 L946.2,725.7 L945.8,723.3 L944.5,723.4 L943.2,723.5 L941.9,723.6 L940.6,723.7 L939.3,723.8 L937.9,723.9 L936.6,724.0 L935.3,724.1 L934.0,724.2 L932.7,724.2 L931.4,724.3 L930.1,724.4 L928.8,724.5 L927.4,724.5 L926.1,724.6 L924.8,724.7 L923.5,724.7 L922.2,724.8 L920.9,724.8 L919.6,724.9 L918.2,724.9 L916.9,724.9 L915.6,725.0 L914.3,725.0 L913.0,725.0 L911.7,725.0 L910.4,725.0 L909.1,725.0 L907.8,725.0 L906.5,725.0 L905.1,725.0 L903.8,725.0 L902.5,724.9 L901.2,724.9 L899.9,724.8 L898.6,724.8 L897.3,724.7 L896.0,724.7 L894.7,724.6 L893.4,724.5 L892.1,724.5 L890.8,724.4 L889.4,724.3 L888.1,724.2 L886.8,724.2 L885.5,724.1 L884.2,724.0 L882.9,723.9 L881.5,723.8 L880.2,723.7 L878.9,723.7 L877.6,723.6 L876.2,723.5 L874.9,723.4 L873.6,723.4 L872.3,723.3 L870.9,723.2 L869.6,723.1 L868.3,723.1 L867.0,723.0 L865.6,723.0 L864.3,722.9 L863.0,722.9 L861.6,722.8 L860.3,722.8 L859.0,722.8 L857.6,722.7 L856.3,722.7 L855.0,722.7 L853.6,722.7 L852.3,722.7 L850.9,722.7 L849.6,722.7 L848.3,722.7 L846.9,722.7 L845.6,722.7 L844.3,722.8 L842.9,722.8 L841.6,722.8 L840.2,722.9 L838.9,723.0 L837.6,723.1 L836.2,723.1 L834.9,723.2 L833.5,723.3 L832.2,723.4 L830.9,723.6 L829.5,723.7 L828.2,723.8 L826.9,724.0 L825.5,724.1 L824.2,724.3 L822.9,724.4 L821.6,724.6 L820.2,724.7 L818.9,724.9 L817.6,725.0 L816.3,725.2 L815.0,725.4 L813.6,725.5 L812.3,725.7 L811.0,725.8 L809.7,726.0 L808.4,726.1 L807.1,726.2 L805.8,726.4 L804.5,726.5 L803.2,726.6 L801.9,726.7 L800.6,726.8 L799.2,726.9 L797.9,727.0 L796.6,727.1 L795.3,727.1 L794.0,727.2 L792.7,727.2 L791.4,727.2 L790.1,727.2 L788.8,727.2 L787.5,727.2 L786.2,727.2 L784.9,727.2 L783.6,727.1 L782.3,727.1 L781.0,727.1 L779.7,727.0 L778.3,726.9 L777.0,726.9 L775.7,726.8 L774.4,726.7 L773.1,726.6 L771.8,726.5 L770.4,726.4 L769.1,726.4 L767.8,726.3 L766.5,726.1 L765.2,726.0 L763.8,725.9 L762.5,725.8 L761.2,725.7 L759.9,725.6 L758.5,725.5 L757.2,725.4 L755.9,725.3 L754.6,725.2 L753.2,725.1 L751.9,725.0 L750.6,724.8 L749.3,724.7 L747.9,724.6 L746.6,724.5 L745.3,724.4 L744.0,724.3 L742.6,724.2 L741.3,724.1 L740.0,724.0 L738.7,723.9 L737.3,723.8 L736.0,723.7 L734.7,723.6 L733.3,723.5 L732.0,723.4 L730.7,723.3 L729.4,723.2 L728.0,723.2 L726.7,723.1 L725.4,723.0 L724.1,722.9 L722.7,722.8 L721.4,722.8 L720.1,722.7 L718.7,722.6 L717.4,722.6 L716.1,722.5 L714.8,722.4 L713.4,722.4 L712.1,722.3 L710.8,722.3 L709.4,722.2 L708.1,722.2 L706.8,722.2 L705.5,722.1 L704.1,722.1 L702.8,722.1 L701.5,722.1 L700.1,722.0 L698.8,722.0 L697.5,722.0 L696.1,722.0 L694.8,722.0 L693.5,722.0 L692.1,722.1 L690.8,722.1 L689.5,722.1 L688.1,722.1 L686.8,722.2 L685.4,722.2 L684.1,722.2 L682.8,722.3 L681.4,722.3 L680.1,722.4 L678.8,722.5 L677.4,722.5 L676.1,722.6 L674.8,722.7 L673.5,722.7 L672.1,722.8 L670.8,722.9 L669.5,723.0 L668.1,723.0 L666.8,723.1 L665.5,723.2 L664.2,723.3 L662.8,723.3 L661.5,723.4 L660.2,723.5 L658.9,723.6 L657.5,723.6 L656.2,723.7 L654.9,723.7 L653.6,723.8 L652.3,723.9 L650.9,723.9 L649.6,724.0 L648.3,724.0 L647.0,724.0 L645.7,724.1 L644.4,724.1 L643.0,724.1 L641.7,724.2 L640.4,724.2 L639.1,724.2 L637.8,724.2 L636.4,724.3 L635.1,724.3 L633.8,724.3 L632.4,724.3 L631.1,724.4 L629.8,724.4 L628.4,724.4 L627.1,724.5 L625.8,724.5 L624.4,724.6 L623.1,724.6 L621.8,724.7 L620.4,724.7 L619.1,724.8 L617.7,724.9 L616.4,725.0 L615.1,725.1 L613.7,725.1 L612.4,725.2 L611.1,725.3 L609.7,725.4 L608.4,725.5 L607.1,725.6 L605.8,725.7 L604.4,725.8 L603.1,725.9 L601.8,726.0 L600.5,726.1 L599.2,726.2 L597.9,726.2 L596.6,726.3 L595.2,726.3 L593.9,726.4 L592.6,726.4 L591.3,726.4 L590.0,726.4 L588.7,726.4 L587.5,726.4 L586.2,726.4 L584.9,726.3 L583.6,726.3 L582.3,726.2 L581.0,726.1 L579.7,726.0 L578.5,725.8 L577.2,725.7 L575.9,725.5 L574.6,725.4 L573.2,725.2 L571.9,725.1 L570.6,724.9 L569.3,724.7 L567.9,724.6 L566.6,724.5 L565.2,724.3 L563.9,724.2 L562.5,724.2 L561.2,724.1 L559.8,724.0 L558.5,724.0 L557.1,724.0 L555.8,724.0 L554.4,724.0 L553.1,724.1 L551.7,724.1 L550.4,724.2 L549.0,724.3 L547.7,724.4 L546.3,724.5 L545.0,724.6 L543.6,724.7 L542.3,724.9 L541.0,725.0 L539.6,725.2 L538.3,725.3 L537.0,725.5 L535.7,725.6 L534.4,725.7 L533.0,725.9 L531.7,726.0 L530.4,726.1 L529.1,726.2 L527.8,726.3 L526.5,726.4 L525.2,726.5 L523.9,726.5 L522.6,726.6 L521.4,726.6 L520.1,726.6 L518.8,726.6 L517.5,726.6 L516.2,726.5 L514.9,726.5 L513.6,726.4 L512.3,726.3 L510.9,726.3 L509.6,726.2 L508.3,726.1 L507.0,726.0 L505.7,725.9 L504.3,725.8 L503.0,725.7 L501.7,725.6 L500.3,725.5 L499.0,725.4 L497.7,725.4 L496.3,725.3 L495.0,725.2 L493.6,725.2 L492.3,725.1 L490.9,725.1 L489.6,725.1 L488.2,725.1 L486.9,725.1 L485.6,725.1 L484.2,725.2 L482.9,725.2 L481.5,725.2 L480.2,725.3 L478.8,725.4 L477.5,725.4 L476.2,725.5 L474.8,725.6 L473.5,725.7 L472.2,725.8 L470.8,725.9 L469.5,726.0 L468.2,726.1 L466.8,726.2 L465.5,726.3 L464.2,726.5 L462.8,726.6 L461.5,726.7 L460.2,726.8 L458.9,727.0 L457.5,727.1 L456.2,727.2 L454.9,727.4 L453.6,727.5 L452.2,727.6 L450.9,727.7 L449.6,727.9 L448.3,728.0 L446.9,728.1 L445.6,728.2 L444.3,728.3 L443.0,728.5 L441.7,728.6 L440.4,728.7 L439.0,728.8 L437.7,728.8 L436.4,728.9 L435.1,729.0 L433.8,729.1 L432.5,729.1 L431.2,729.2 L429.9,729.2 L428.6,729.3 L427.2,729.3 L425.9,729.3 L424.6,729.3 L423.3,729.3 L422.0,729.3 L420.7,729.3 L419.4,729.2 L418.1,729.2Z" fill="#000"/>
<path d="M366.0,895.6 L367.6,895.7 L369.3,895.7 L370.9,895.6 L372.6,895.6 L374.2,895.6 L375.9,895.6 L377.5,895.5 L379.2,895.5 L380.8,895.4 L382.5,895.4 L384.1,895.3 L385.8,895.2 L387.4,895.2 L389.0,895.1 L390.7,895.0 L392.3,894.9 L394.0,894.8 L395.6,894.7 L397.3,894.6 L398.9,894.5 L400.5,894.4 L402.2,894.3 L403.8,894.2 L405.4,894.1 L407.1,894.0 L408.7,893.9 L410.3,893.8 L412.0,893.6 L413.6,893.5 L415.2,893.4 L416.9,893.3 L418.5,893.2 L420.1,893.1 L421.8,893.0 L423.4,892.9 L425.0,892.7 L426.6,892.6 L428.3,892.5 L429.9,892.4 L431.5,892.3 L433.1,892.3 L434.8,892.2 L436.4,892.1 L438.0,892.0 L439.6,891.9 L441.3,891.9 L442.9,891.8 L444.5,891.7 L446.1,891.7 L447.7,891.6 L449.4,891.6 L451.0,891.5 L452.6,891.5 L454.2,891.4 L455.8,891.4 L457.5,891.4 L459.1,891.4 L460.7,891.4 L462.3,891.3 L463.9,891.3 L465.6,891.3 L467.2,891.4 L468.8,891.4 L470.4,891.4 L472.0,891.4 L473.7,891.5 L475.3,891.5 L476.9,891.5 L478.5,891.6 L480.1,891.7 L481.8,891.7 L483.4,891.8 L485.0,891.9 L486.7,891.9 L488.3,892.0 L490.0,892.1 L491.6,892.1 L493.3,892.2 L494.9,892.2 L496.6,892.2 L498.3,892.2 L499.9,892.2 L501.6,892.1 L503.3,892.1 L505.0,892.0 L506.6,891.9 L508.3,891.8 L510.0,891.7 L511.6,891.5 L513.3,891.4 L514.9,891.2 L516.5,891.1 L518.2,890.9 L519.8,890.8 L521.4,890.6 L523.0,890.5 L524.6,890.3 L526.2,890.2 L527.8,890.1 L529.4,890.0 L531.0,889.9 L532.6,889.8 L534.2,889.8 L535.8,889.7 L537.3,889.7 L538.9,889.7 L540.5,889.8 L542.1,889.8 L543.6,889.9 L545.2,890.0 L546.8,890.1 L548.4,890.2 L549.9,890.3 L551.5,890.5 L553.1,890.6 L554.7,890.8 L556.4,890.9 L558.0,891.1 L559.6,891.3 L561.2,891.4 L562.9,891.5 L564.5,891.7 L566.2,891.8 L567.8,891.9 L569.5,892.0 L571.1,892.0 L572.8,892.1 L574.4,892.2 L576.1,892.2 L577.7,892.2 L579.3,892.2 L581.0,892.2 L582.6,892.2 L584.3,892.2 L585.9,892.2 L587.6,892.2 L589.2,892.1 L590.9,892.1 L592.5,892.0 L594.2,892.0 L595.8,891.9 L597.5,891.8 L599.1,891.8 L600.7,891.7 L602.4,891.6 L604.0,891.5 L605.7,891.4 L607.3,891.3 L609.0,891.2 L610.6,891.1 L612.2,891.0 L613.9,890.9 L615.5,890.8 L617.2,890.7 L618.8,890.6 L620.4,890.5 L622.1,890.4 L623.7,890.3 L625.3,890.2 L627.0,890.1 L628.6,890.0 L630.2,889.9 L631.8,889.8 L633.5,889.8 L635.1,889.7 L636.7,889.6 L638.3,889.5 L640.0,889.5 L641.6,889.4 L643.2,889.4 L644.8,889.3 L646.4,889.3 L648.1,889.3 L649.7,889.2 L651.3,889.2 L653.0,889.2 L654.6,889.2 L656.2,889.2 L657.8,889.1 L659.5,889.1 L661.1,889.1 L662.7,889.1 L664.4,889.1 L666.0,889.0 L667.7,889.0 L669.3,889.0 L670.9,888.9 L672.6,888.9 L674.2,888.9 L675.9,888.8 L677.5,888.7 L679.2,888.7 L680.8,888.6 L682.4,888.5 L684.1,888.4 L685.7,888.4 L687.4,888.3 L689.0,888.2 L690.7,888.1 L692.3,888.0 L693.9,887.9 L695.6,887.8 L697.2,887.7 L698.8,887.6 L700.5,887.4 L702.1,887.3 L703.7,887.2 L705.4,887.1 L707.0,887.0 L708.6,886.9 L710.2,886.9 L711.9,886.8 L713.5,886.7 L715.1,886.6 L716.7,886.5 L718.3,886.5 L720.0,886.4 L721.6,886.4 L723.2,886.3 L724.8,886.3 L726.4,886.3 L728.0,886.2 L729.6,886.2 L731.2,886.2 L732.8,886.3 L734.4,886.3 L736.0,886.3 L737.6,886.4 L739.2,886.5 L740.8,886.5 L742.4,886.6 L744.0,886.7 L745.6,886.9 L747.3,887.0 L748.9,887.1 L750.5,887.3 L752.1,887.4 L753.7,887.6 L755.3,887.8 L756.9,887.9 L758.5,888.1 L760.1,888.3 L761.8,888.5 L763.4,888.7 L765.0,888.9 L766.6,889.1 L768.3,889.3 L769.9,889.5 L771.5,889.7 L773.2,889.9 L774.8,890.1 L776.4,890.3 L778.1,890.5 L779.7,890.7 L781.3,890.9 L783.0,891.1 L784.6,891.2 L786.3,891.4 L787.9,891.6 L789.6,891.7 L791.2,891.9 L792.9,892.0 L794.5,892.1 L796.2,892.3 L797.8,892.4 L799.4,892.5 L801.1,892.6 L802.7,892.7 L804.4,892.8 L806.0,892.9 L807.7,893.0 L809.4,893.0 L811.0,893.1 L812.7,893.2 L814.3,893.2 L816.0,893.2 L817.6,893.3 L819.3,893.3 L820.9,893.3 L822.6,893.3 L824.2,893.3 L825.9,893.3 L827.5,893.2 L829.2,893.2 L830.8,893.1 L832.5,893.1 L834.2,893.0 L835.8,892.9 L837.5,892.8 L839.1,892.7 L840.8,892.6 L842.4,892.5 L844.1,892.3 L845.7,892.2 L847.3,892.1 L849.0,891.9 L850.6,891.7 L852.3,891.6 L853.9,891.4 L855.5,891.2 L857.1,891.1 L858.8,890.9 L860.4,890.7 L862.0,890.5 L863.6,890.4 L865.3,890.2 L866.9,890.0 L868.5,889.9 L870.1,889.7 L871.7,889.6 L873.3,889.5 L874.9,889.3 L876.6,889.2 L878.2,889.1 L879.8,889.0 L881.4,888.9 L883.0,888.8 L884.6,888.8 L886.2,888.7 L887.8,888.7 L889.4,888.6 L891.0,888.6 L892.6,888.6 L894.3,888.6 L895.9,888.6 L897.5,888.6 L899.1,888.6 L900.8,888.6 L902.4,888.7 L904.0,888.7 L905.7,888.7 L907.3,888.7 L908.9,888.7 L910.6,888.7 L912.2,888.8 L913.9,888.8 L915.5,888.8 L917.2,888.7 L918.8,888.7 L920.5,888.7 L922.1,888.7 L923.7,888.6 L925.4,888.6 L927.0,888.5 L928.6,888.5 L930.2,888.4 L931.9,888.4 L933.5,888.4 L935.1,888.3 L936.7,888.3 L938.3,888.3 L939.8,888.3 L941.4,888.4 L943.0,888.4 L944.6,888.5 L946.2,888.6 L947.8,888.7 L949.4,888.8 L951.0,888.9 L952.6,889.1 L954.2,889.2 L955.8,889.3 L957.4,889.5 L959.1,889.6 L960.7,889.8 L962.3,889.9 L964.0,890.0 L965.6,890.1 L967.3,890.2 L969.0,890.3 L970.6,890.4 L972.3,890.4 L974.0,890.5 L975.6,890.5 L977.3,890.5 L979.0,890.4 L980.6,890.4 L982.3,890.3 L984.0,890.2 L985.6,890.1 L987.3,890.0 L988.9,889.9 L990.6,889.7 L992.2,889.5 L993.8,889.4 L995.5,889.1 L997.1,888.9 L998.7,888.7 L1000.4,888.4 L1002.0,888.1 L1003.6,887.8 L1005.2,887.5 L1006.8,887.2 L1008.4,886.9 L1010.0,886.5 L1011.5,886.1 L1013.1,885.7 L1014.7,885.3 L1016.2,884.9 L1015.8,881.8 L1014.2,881.7 L1012.6,881.7 L1011.0,881.8 L1009.4,881.8 L1007.7,881.8 L1006.1,881.9 L1004.5,882.0 L1002.9,882.0 L1001.3,882.1 L999.7,882.2 L998.1,882.3 L996.4,882.4 L994.8,882.5 L993.2,882.6 L991.6,882.7 L990.0,882.8 L988.4,882.9 L986.8,883.0 L985.2,883.1 L983.6,883.1 L982.0,883.2 L980.4,883.3 L978.8,883.3 L977.2,883.3 L975.6,883.3 L974.0,883.4 L972.4,883.3 L970.8,883.3 L969.2,883.3 L967.7,883.2 L966.1,883.1 L964.5,883.0 L962.9,882.9 L961.3,882.8 L959.6,882.7 L958.0,882.5 L956.4,882.4 L954.8,882.3 L953.2,882.1 L951.5,882.0 L949.9,881.9 L948.2,881.8 L946.6,881.7 L944.9,881.6 L943.3,881.5 L941.6,881.4 L940.0,881.4 L938.3,881.4 L936.6,881.4 L935.0,881.4 L933.3,881.4 L931.7,881.4 L930.1,881.5 L928.4,881.5 L926.8,881.6 L925.2,881.6 L923.6,881.6 L921.9,881.7 L920.3,881.7 L918.7,881.7 L917.1,881.7 L915.5,881.7 L913.9,881.7 L912.3,881.7 L910.6,881.7 L909.0,881.7 L907.4,881.7 L905.7,881.7 L904.1,881.7 L902.5,881.6 L900.8,881.6 L899.2,881.6 L897.5,881.6 L895.9,881.6 L894.3,881.6 L892.6,881.6 L891.0,881.6 L889.3,881.6 L887.6,881.7 L886.0,881.7 L884.3,881.8 L882.7,881.8 L881.0,881.9 L879.4,882.0 L877.7,882.1 L876.0,882.2 L874.4,882.3 L872.8,882.5 L871.1,882.6 L869.5,882.8 L867.8,882.9 L866.2,883.1 L864.6,883.2 L862.9,883.4 L861.3,883.6 L859.7,883.8 L858.0,883.9 L856.4,884.1 L854.8,884.3 L853.2,884.4 L851.5,884.6 L849.9,884.8 L848.3,884.9 L846.7,885.1 L845.1,885.2 L843.5,885.4 L841.9,885.5 L840.3,885.6 L838.6,885.7 L837.0,885.8 L835.4,885.9 L833.8,886.0 L832.2,886.1 L830.6,886.1 L829.0,886.2 L827.4,886.2 L825.8,886.3 L824.2,886.3 L822.6,886.3 L820.9,886.3 L819.3,886.3 L817.7,886.3 L816.1,886.2 L814.5,886.2 L812.9,886.2 L811.2,886.1 L809.6,886.0 L808.0,886.0 L806.4,885.9 L804.8,885.8 L803.2,885.7 L801.5,885.6 L799.9,885.5 L798.3,885.4 L796.7,885.3 L795.1,885.2 L793.4,885.0 L791.8,884.9 L790.2,884.7 L788.6,884.6 L787.0,884.4 L785.3,884.3 L783.7,884.1 L782.1,883.9 L780.5,883.7 L778.9,883.6 L777.2,883.4 L775.6,883.2 L774.0,883.0 L772.4,882.8 L770.8,882.6 L769.1,882.4 L767.5,882.2 L765.9,882.0 L764.2,881.8 L762.6,881.6 L761.0,881.4 L759.3,881.2 L757.7,881.0 L756.1,880.8 L754.4,880.6 L752.8,880.5 L751.1,880.3 L749.5,880.1 L747.8,880.0 L746.2,879.9 L744.5,879.8 L742.9,879.6 L741.2,879.5 L739.6,879.5 L737.9,879.4 L736.3,879.3 L734.6,879.3 L732.9,879.3 L731.3,879.2 L729.6,879.2 L728.0,879.2 L726.3,879.3 L724.7,879.3 L723.0,879.3 L721.4,879.4 L719.7,879.4 L718.1,879.5 L716.4,879.5 L714.8,879.6 L713.1,879.7 L711.5,879.8 L709.8,879.9 L708.2,880.0 L706.6,880.1 L704.9,880.2 L703.3,880.3 L701.7,880.4 L700.0,880.5 L698.4,880.6 L696.7,880.7 L695.1,880.8 L693.5,880.9 L691.9,881.0 L690.2,881.1 L688.6,881.2 L687.0,881.3 L685.4,881.4 L683.7,881.5 L682.1,881.5 L680.5,881.6 L678.9,881.7 L677.2,881.7 L675.6,881.8 L674.0,881.9 L672.4,881.9 L670.8,881.9 L669.1,882.0 L667.5,882.0 L665.9,882.0 L664.3,882.1 L662.6,882.1 L661.0,882.1 L659.4,882.1 L657.8,882.1 L656.1,882.2 L654.5,882.2 L652.9,882.2 L651.2,882.2 L649.6,882.3 L647.9,882.3 L646.3,882.3 L644.7,882.3 L643.0,882.4 L641.4,882.4 L639.7,882.5 L638.1,882.5 L636.4,882.6 L634.8,882.7 L633.1,882.8 L631.5,882.8 L629.8,882.9 L628.2,883.0 L626.6,883.1 L624.9,883.2 L623.3,883.3 L621.6,883.4 L620.0,883.5 L618.3,883.6 L616.7,883.7 L615.1,883.8 L613.4,883.9 L611.8,884.0 L610.2,884.1 L608.5,884.2 L606.9,884.3 L605.3,884.4 L603.6,884.5 L602.0,884.6 L600.4,884.7 L598.8,884.8 L597.1,884.8 L595.5,884.9 L593.9,885.0 L592.3,885.0 L590.7,885.1 L589.0,885.1 L587.4,885.2 L585.8,885.2 L584.2,885.2 L582.6,885.2 L581.0,885.2 L579.4,885.2 L577.8,885.2 L576.2,885.2 L574.6,885.2 L573.0,885.1 L571.4,885.1 L569.8,885.0 L568.2,884.9 L566.6,884.8 L565.0,884.7 L563.4,884.6 L561.9,884.4 L560.3,884.3 L558.7,884.1 L557.0,884.0 L555.4,883.8 L553.8,883.7 L552.2,883.5 L550.6,883.4 L548.9,883.2 L547.3,883.1 L545.6,883.0 L544.0,882.9 L542.3,882.8 L540.7,882.8 L539.0,882.7 L537.3,882.7 L535.7,882.7 L534.0,882.8 L532.3,882.8 L530.7,882.9 L529.0,883.0 L527.4,883.1 L525.7,883.2 L524.1,883.4 L522.4,883.5 L520.8,883.6 L519.1,883.8 L517.5,884.0 L515.9,884.1 L514.2,884.3 L512.6,884.4 L511.0,884.5 L509.4,884.7 L507.8,884.8 L506.2,884.9 L504.6,885.0 L503.0,885.1 L501.4,885.1 L499.8,885.2 L498.2,885.2 L496.6,885.2 L495.0,885.2 L493.4,885.2 L491.8,885.1 L490.2,885.1 L488.6,885.0 L486.9,884.9 L485.3,884.9 L483.7,884.8 L482.0,884.7 L480.4,884.7 L478.8,884.6 L477.1,884.5 L475.5,884.5 L473.8,884.5 L472.2,884.4 L470.5,884.4 L468.9,884.4 L467.2,884.4 L465.6,884.3 L463.9,884.3 L462.3,884.3 L460.7,884.4 L459.0,884.4 L457.4,884.4 L455.7,884.4 L454.1,884.4 L452.4,884.5 L450.8,884.5 L449.2,884.6 L447.5,884.6 L445.9,884.7 L444.2,884.7 L442.6,884.8 L441.0,884.9 L439.3,884.9 L437.7,885.0 L436.0,885.1 L434.4,885.2 L432.8,885.3 L431.1,885.4 L429.5,885.5 L427.8,885.6 L426.2,885.7 L424.6,885.8 L422.9,885.9 L421.3,886.0 L419.7,886.1 L418.0,886.2 L416.4,886.3 L414.8,886.4 L413.1,886.5 L411.5,886.7 L409.9,886.8 L408.2,886.9 L406.6,887.0 L405.0,887.1 L403.3,887.2 L401.7,887.3 L400.1,887.4 L398.5,887.5 L396.8,887.6 L395.2,887.7 L393.6,887.8 L391.9,887.9 L390.3,888.0 L388.7,888.1 L387.1,888.2 L385.5,888.2 L383.8,888.3 L382.2,888.4 L380.6,888.4 L379.0,888.5 L377.3,888.5 L375.7,888.6 L374.1,888.6 L372.5,888.6 L370.9,888.6 L369.3,888.7 L367.6,888.7 L366.0,888.6Z" fill="#000"/>
<path d="M101.7,600 L246,600" fill="none" stroke="#000" stroke-width="6"/>
<path d="M228.7,580.7 L248,600 L228.7,619.3" fill="none" stroke="#000" stroke-width="6" stroke-linecap="round" stroke-linejoin="round"/>
<g fill="none" stroke="#000" stroke-width="3.5" stroke-linecap="round" stroke-linejoin="round">
<path transform="translate(626.4,351.3)" d="M0,0 C3,0 5,4 6,10 L8,33.5 L17.5,5.5 L30,33 C32,36 36,37 39,32 C42,26 42,10 38,2 C36,-3 33,-8 30,-11"/>
<path transform="translate(626.4,351.3)" d="M46.1,-2.9 L49.6,35.6 M68.9,-4 L70.6,38 M42.6,21.7 L75.3,18.1"/>
<path transform="translate(626.4,351.3)" d="M88.1,-2.3 L78.8,35.6 M88.1,-2.3 C90,5 92,20 93,28 C94,32 97,34 99.8,35 M76.4,26.3 L102.1,22.8"/>
<path transform="translate(626.4,351.3)" d="M93.9,2.4 L130.1,0 M111.4,3 L114.9,35.6"/>
<path transform="translate(57,522)" d="M0,0 C3,0 5,4 6,10 L8,33.5 L17.5,5.5 L30,33 C32,36 36,37 39,32 C42,26 42,10 38,2 C36,-3 33,-8 30,-11"/>
<path transform="translate(102.5,518.5)" d="M0,0 L3.5,38.5 M23.5,-1 L26,40.5 M-2.5,25 L30,21"/>
<path transform="translate(102.5,518.5)" d="M38,6 C34,9 32,15 32,22 C32,31 37,37 45,37 C53,37 61,32 61,25 C61,18 52,9 46,6 C43,5 40,5 37,6.5"/>
<path transform="translate(637,500)" d="M0,0 L3.5,38.5 M23.5,-1 L26,40.5 M-2.5,25 L30,21"/>
<path transform="translate(637,500)" d="M38,6 C34,9 32,15 32,22 C32,31 37,37 45,37 C53,37 61,32 61,25 C61,18 52,9 46,6 C43,5 40,5 37,6.5"/>
<path transform="translate(698,503.5)" d="M0,0 C3,0 5,4 6,10 L8,33.5 L17.5,5.5 L30,33 C32,36 36,37 39,32 C42,26 42,10 38,2 C36,-3 33,-8 30,-11"/>
<path transform="translate(609,648)" d="M0,0 C3,0 5,4 6,10 L8,33.5 L17.5,5.5 L30,33 C32,36 36,37 39,32 C42,26 42,10 38,2 C36,-3 33,-8 30,-11"/>
<path transform="translate(654.8,644.3)" d="M0,0 L3.5,38.5 M23.5,-1 L26,40.5 M-2.5,25 L30,21"/>
<path transform="translate(690.8,646.3)" d="M15.9,-0.5 L3,0 C-1,1 -3,5 -3,10 C-3,18 -1,26 1,31 C2,34 4,36 6,35.4 C11,34 16,32 20.5,30.4 M-10,19.5 L19.6,12.45"/>
<path transform="translate(715,645.8)" d="M0,0 L2.1,36.7 M0,0 C6,2 12,3 17,6 C22,9 23,14 19,19 C15,24 8,27 3.3,28.4 M3.3,30.9 C15,32 25,34 33.3,35"/>
<path transform="translate(750,645.8)" d="M15.9,-0.5 L3,0 C-1,1 -3,5 -3,10 C-3,18 -1,26 1,31 C2,34 4,36 6,35.4 C11,34 16,32 20.5,30.4 M-10,19.5 L19.6,12.45"/>
<path transform="translate(634.5,795.5)" d="M0,0 C3,0 5,4 6,10 L8,33.5 L17.5,5.5 L30,33 C32,36 36,37 39,32 C42,26 42,10 38,2 C36,-3 33,-8 30,-11"/>
<path transform="translate(680,792.5)" d="M0,0 L3.5,38.5 M23.5,-1 L26,40.5 M-2.5,25 L30,21"/>
<path d="M711.3,804.3 C713,810 716,816 720,820 C722,822 725,820 726,817 M725.3,794.3 C726,805 727,815 730,827 C733,838 736,846 736,852 C736,857 733,860 727,860.5 C720,861 712,859 706,855 C699,851 699,845 704,841 C712,835 724,829 735.7,826.3"/>
</g>
</svg>
</body></html>
